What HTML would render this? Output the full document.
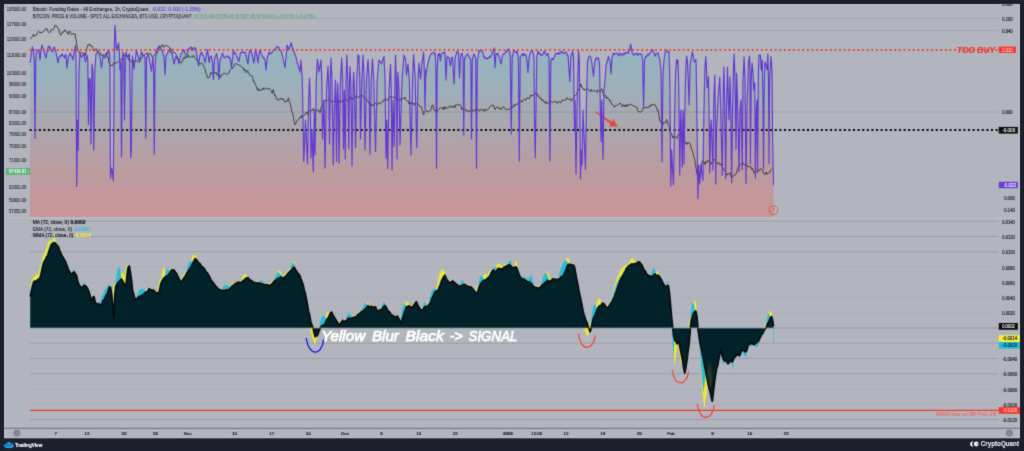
<!DOCTYPE html>
<html><head><meta charset="utf-8"><title>Chart</title>
<style>
html,body{margin:0;padding:0;background:#1c202c;width:1024px;height:451px;overflow:hidden;font-family:"Liberation Sans",sans-serif;}
</style></head><body>
<svg width="1024" height="451" viewBox="0 0 1024 451" style="display:block;position:absolute;left:0;top:0" font-family="Liberation Sans, sans-serif">
<defs>
<linearGradient id="g1" gradientUnits="userSpaceOnUse" x1="0" y1="44" x2="0" y2="217">
<stop offset="0" stop-color="#8fb6c2"/>
<stop offset="0.25" stop-color="#9db0ba"/>
<stop offset="0.5" stop-color="#aca5ad"/>
<stop offset="0.75" stop-color="#bc9b9f"/>
<stop offset="1" stop-color="#c99496"/>
</linearGradient>
<filter id="bl" x="0" y="0" width="1024" height="451" filterUnits="userSpaceOnUse" color-interpolation-filters="sRGB"><feConvolveMatrix order="3" kernelMatrix="0.016 0.09 0.016 0.09 0.576 0.09 0.016 0.09 0.016" edgeMode="duplicate" preserveAlpha="true"/></filter>
</defs>
<g filter="url(#bl)">
<rect x="-10" y="-10" width="1044" height="471" fill="#1c202c"/>
<rect x="3.2" y="3.2" width="1017.6" height="435.9" fill="#141720"/>
<rect x="4" y="4" width="1016" height="434.3" fill="#c4c7cf"/>
<rect x="4.8" y="4.8" width="1014.4" height="432.7" fill="#b2b5be"/>
<line x1="30" x2="998.5" y1="18.5" y2="18.5" stroke="#9ea1ab" stroke-width="0.8"/>
<line x1="30" x2="998.5" y1="30.6" y2="30.6" stroke="#9ea1ab" stroke-width="0.8"/>
<line x1="30" x2="998.5" y1="112.1" y2="112.1" stroke="#9ea1ab" stroke-width="0.8"/>
<path d="M30.00,217.00 L30.00,63.00 L31.00,56.00 L31.75,51.17 L32.50,47.00 L33.50,52.00 L34.30,60.00 L35.00,138.50 L35.80,60.00 L36.50,52.00 L37.50,50.00 L38.25,50.15 L39.00,52.00 L40.00,60.00 L41.00,50.00 L42.00,45.00 L42.75,48.15 L43.50,50.00 L44.33,51.58 L45.17,55.64 L46.00,58.00 L46.75,53.80 L47.50,50.00 L48.25,46.87 L49.00,46.00 L49.67,47.56 L50.33,47.48 L51.00,50.00 L51.75,51.00 L52.50,52.00 L53.25,48.41 L54.00,47.00 L54.67,47.64 L55.33,50.31 L56.00,52.00 L56.67,56.85 L57.33,58.40 L58.00,63.00 L58.75,58.87 L59.50,56.00 L60.33,55.92 L61.17,56.21 L62.00,54.00 L62.67,55.43 L63.33,55.89 L64.00,57.00 L64.67,57.96 L65.33,54.51 L66.00,55.00 L67.00,68.00 L68.50,56.00 L69.25,55.78 L70.00,53.00 L70.75,54.07 L71.50,56.00 L72.25,57.13 L73.00,60.00 L73.75,54.05 L74.50,50.00 L75.50,45.00 L76.00,60.00 L76.75,186.50 L77.60,120.00 L78.20,150.00 L79.00,70.00 L80.00,54.00 L80.67,54.63 L81.33,57.15 L82.00,57.00 L82.67,55.24 L83.33,55.44 L84.00,54.00 L84.75,58.62 L85.50,62.00 L86.25,58.32 L87.00,55.00 L87.80,60.00 L88.50,124.50 L89.30,78.00 L90.20,80.00 L91.00,144.00 L92.00,64.00 L92.80,70.00 L93.75,150.00 L94.80,70.00 L96.00,54.00 L96.67,53.68 L97.33,51.56 L98.00,52.00 L98.67,52.55 L99.33,54.65 L100.00,57.00 L101.50,68.00 L103.00,56.00 L103.67,57.41 L104.33,57.32 L105.00,58.00 L105.67,56.31 L106.33,55.79 L107.00,54.00 L107.75,52.06 L108.50,50.00 L109.80,55.00 L110.50,178.00 L111.40,168.00 L112.30,172.00 L113.30,181.00 L113.80,120.00 L114.20,60.00 L114.60,35.00 L115.00,25.00 L115.50,32.00 L116.30,48.00 L117.00,50.00 L117.75,46.10 L118.50,43.00 L119.30,50.00 L120.00,70.00 L120.80,62.00 L121.50,157.00 L122.30,60.00 L123.00,52.00 L123.80,58.00 L124.50,120.00 L125.30,58.00 L126.00,52.00 L126.67,54.75 L127.33,56.13 L128.00,57.00 L128.75,54.93 L129.50,54.00 L130.20,100.00 L130.75,158.00 L131.30,150.00 L131.80,100.00 L132.50,56.00 L134.00,69.00 L136.50,50.00 L137.33,53.76 L138.17,56.94 L139.00,60.00 L139.83,58.66 L140.67,55.56 L141.50,52.00 L142.17,52.56 L142.83,55.64 L143.50,55.00 L144.25,55.55 L145.00,58.00 L145.75,138.00 L146.50,58.00 L147.25,55.95 L148.00,54.00 L149.00,57.00 L151.50,71.50 L153.00,56.00 L153.60,70.00 L154.25,154.00 L155.00,70.00 L156.00,52.00 L156.67,51.64 L157.33,48.49 L158.00,48.00 L158.67,47.67 L159.33,45.82 L160.00,46.50 L160.67,48.37 L161.33,49.83 L162.00,50.00 L162.67,52.42 L163.33,55.33 L164.00,56.00 L165.00,75.00 L166.00,56.00 L166.67,54.31 L167.33,54.12 L168.00,52.00 L168.67,51.82 L169.33,51.11 L170.00,50.00 L170.67,51.07 L171.33,53.22 L172.00,53.00 L174.00,64.00 L176.00,56.00 L176.75,58.53 L177.50,58.00 L179.00,64.00 L181.00,54.00 L181.75,53.12 L182.50,52.69 L183.25,49.88 L184.00,50.00 L184.67,52.47 L185.33,53.97 L186.00,55.00 L186.67,55.01 L187.33,52.83 L188.00,50.00 L188.67,48.89 L189.33,48.52 L190.00,48.00 L191.00,47.00 L191.67,48.71 L192.33,47.77 L193.00,50.00 L193.80,49.32 L194.60,47.67 L195.40,47.70 L196.20,50.90 L197.00,56.00 L198.50,66.00 L199.80,56.00 L201.20,52.50 L201.80,52.21 L202.40,55.17 L203.00,55.00 L203.67,56.62 L204.33,59.51 L205.00,62.60 L205.75,58.17 L206.50,54.00 L207.60,49.30 L208.40,57.26 L209.20,62.60 L210.30,56.00 L211.30,56.00 L212.50,62.00 L213.40,79.60 L214.50,60.00 L215.20,56.78 L215.90,55.71 L216.60,53.50 L217.80,60.00 L218.80,79.60 L220.00,60.00 L220.83,58.01 L221.67,56.68 L222.50,53.00 L223.33,55.82 L224.17,57.63 L225.00,58.00 L225.67,56.87 L226.33,56.61 L227.00,56.00 L227.80,56.11 L228.60,58.02 L229.40,57.00 L230.50,60.00 L231.50,68.00 L232.50,58.00 L233.50,50.00 L234.25,53.07 L235.00,53.00 L235.75,53.65 L236.50,56.00 L237.25,57.23 L238.00,60.00 L239.00,61.50 L239.75,56.65 L240.50,53.00 L241.33,52.07 L242.17,52.49 L243.00,52.00 L243.83,52.80 L244.67,52.15 L245.50,53.00 L248.00,64.00 L249.00,54.00 L250.00,50.00 L250.67,50.05 L251.33,52.62 L252.00,54.00 L252.67,56.81 L253.33,60.40 L254.00,63.00 L254.75,57.56 L255.50,49.00 L256.25,53.27 L257.00,56.00 L258.00,63.00 L259.00,54.00 L260.00,50.00 L260.75,52.25 L261.50,54.00 L262.25,56.05 L263.00,57.00 L263.67,58.73 L264.33,57.86 L265.00,60.00 L266.00,70.00 L267.50,56.00 L268.25,55.40 L269.00,52.00 L269.67,53.37 L270.33,53.99 L271.00,53.00 L271.75,53.34 L272.50,51.38 L273.25,50.65 L274.00,50.00 L274.67,48.68 L275.33,49.94 L276.00,49.00 L276.67,47.22 L277.33,46.57 L278.00,47.00 L278.67,47.33 L279.33,48.19 L280.00,50.00 L280.67,51.05 L281.33,51.52 L282.00,54.00 L285.00,67.75 L286.50,52.00 L287.00,45.00 L287.75,46.20 L288.50,50.00 L289.25,47.65 L290.00,47.00 L291.25,42.75 L292.50,48.00 L293.25,49.00 L294.00,52.00 L294.75,53.79 L295.50,56.00 L296.25,57.78 L297.00,62.00 L298.50,66.00 L300.00,72.00 L301.00,60.00 L302.30,80.00 L303.75,161.50 L305.50,120.00 L307.50,164.00 L308.60,100.00 L309.50,78.00 L310.30,100.00 L311.00,158.00 L312.00,130.00 L313.25,172.00 L314.30,110.00 L315.00,155.00 L316.30,80.00 L317.40,59.00 L319.00,72.00 L321.00,60.00 L321.80,80.00 L322.50,139.00 L324.00,100.00 L325.00,168.00 L326.50,90.00 L328.00,66.00 L328.80,90.00 L329.50,144.00 L330.30,80.00 L331.00,57.75 L332.00,80.00 L333.25,165.00 L334.30,110.00 L335.50,80.00 L336.00,100.00 L336.50,161.50 L337.20,100.00 L337.75,83.00 L338.30,100.00 L339.00,163.00 L340.50,80.00 L341.75,58.00 L342.60,80.00 L343.50,149.00 L344.30,90.00 L345.25,159.00 L346.00,80.00 L346.75,55.00 L347.80,80.00 L348.80,149.00 L349.50,80.00 L350.00,66.50 L351.00,90.00 L352.00,166.00 L353.00,90.00 L353.60,72.00 L354.50,90.00 L355.50,148.00 L356.80,80.00 L358.00,55.00 L359.00,56.00 L359.80,80.00 L360.50,139.00 L361.80,80.00 L363.00,55.00 L364.00,75.00 L365.00,150.00 L366.50,80.00 L368.00,59.60 L369.00,80.00 L370.00,154.00 L371.30,80.00 L372.40,59.00 L373.80,80.00 L375.50,151.50 L377.20,80.00 L379.00,60.00 L381.50,64.00 L384.00,56.50 L385.00,80.00 L386.00,158.00 L386.80,120.00 L387.70,168.50 L389.00,90.00 L390.50,64.60 L391.30,90.00 L392.00,170.00 L393.00,100.00 L394.25,146.50 L395.00,80.00 L395.50,55.00 L396.30,80.00 L397.00,159.00 L397.60,90.00 L398.00,72.00 L399.00,90.00 L400.00,145.00 L402.00,80.00 L404.00,55.00 L404.75,57.82 L405.50,58.00 L406.50,75.00 L408.00,64.00 L409.30,80.00 L411.00,155.00 L412.50,80.00 L413.60,54.60 L415.00,75.00 L416.75,148.00 L418.00,80.00 L419.00,63.00 L420.50,79.00 L422.00,63.00 L422.80,58.04 L423.60,52.00 L424.30,70.00 L425.00,110.00 L425.80,70.00 L426.00,76.00 L427.00,68.00 L428.50,61.00 L429.33,57.81 L430.17,55.79 L431.00,54.00 L431.83,53.24 L432.67,52.79 L433.50,52.50 L434.10,52.07 L434.70,54.75 L435.30,54.00 L435.90,70.00 L436.50,168.50 L437.20,70.00 L438.00,54.30 L438.75,55.48 L439.50,53.30 L440.40,61.00 L441.30,53.80 L442.15,53.40 L443.00,52.80 L443.67,53.12 L444.33,52.09 L445.00,53.30 L446.00,80.00 L447.00,57.30 L447.67,56.54 L448.33,57.49 L449.00,58.00 L450.40,66.00 L451.50,58.00 L452.50,57.30 L454.00,84.00 L455.20,57.30 L455.80,54.79 L456.40,54.49 L457.00,51.30 L457.75,51.48 L458.50,53.30 L459.50,78.00 L460.50,57.30 L461.25,54.07 L462.00,53.30 L463.00,58.00 L463.75,135.00 L464.50,58.00 L465.25,58.20 L466.00,55.30 L466.75,54.96 L467.50,54.05 L468.17,54.27 L468.83,56.55 L469.50,57.30 L470.80,60.00 L471.50,139.00 L472.30,60.00 L473.15,55.81 L474.00,54.05 L474.85,56.31 L475.70,58.00 L476.50,168.50 L477.30,60.00 L478.15,56.79 L479.00,50.30 L479.67,51.59 L480.33,51.09 L481.00,50.30 L481.75,50.28 L482.50,51.30 L483.25,54.10 L484.00,57.30 L484.67,56.73 L485.33,58.78 L486.00,58.00 L486.75,58.30 L487.50,59.04 L488.25,57.69 L489.00,58.00 L489.67,56.47 L490.33,57.33 L491.00,55.30 L491.75,54.95 L492.50,51.30 L493.25,50.81 L494.00,47.80 L495.00,67.75 L496.00,53.30 L496.67,54.42 L497.33,54.45 L498.00,53.30 L498.75,56.22 L499.50,57.30 L501.00,64.00 L502.50,55.30 L503.33,54.01 L504.17,54.22 L505.00,53.30 L505.67,52.40 L506.33,50.75 L507.00,51.30 L507.67,49.33 L508.33,49.34 L509.00,49.05 L510.30,55.30 L511.25,134.00 L512.20,57.30 L513.50,51.30 L514.25,50.78 L515.00,51.30 L515.67,52.08 L516.33,52.87 L517.00,51.30 L518.40,57.30 L519.30,161.00 L520.20,57.30 L521.10,55.72 L522.00,54.05 L522.67,55.31 L523.33,55.21 L524.00,53.30 L524.67,55.53 L525.33,54.43 L526.00,55.30 L527.00,60.00 L528.00,72.75 L529.00,58.00 L529.67,55.13 L530.33,52.91 L531.00,51.30 L531.75,50.59 L532.50,51.30 L533.25,53.61 L534.00,57.30 L534.50,120.00 L535.20,158.00 L536.00,110.00 L536.80,57.30 L538.00,51.30 L538.67,52.54 L539.33,54.03 L540.00,53.30 L540.67,55.19 L541.33,54.77 L542.00,55.30 L542.67,54.63 L543.33,53.73 L544.00,51.30 L544.67,51.25 L545.33,53.98 L546.00,54.30 L546.67,55.40 L547.33,54.68 L548.00,53.30 L549.00,58.00 L549.90,161.00 L550.80,62.00 L552.00,58.30 L552.75,59.63 L553.50,59.05 L554.33,57.27 L555.17,54.45 L556.00,53.30 L556.75,54.24 L557.50,52.75 L558.25,54.03 L559.00,52.80 L559.75,54.04 L560.50,51.94 L561.25,51.58 L562.00,51.30 L562.67,53.51 L563.33,53.51 L564.00,53.30 L564.67,52.34 L565.33,52.05 L566.00,52.80 L566.67,52.79 L567.33,55.88 L568.00,55.30 L569.75,81.50 L571.00,55.30 L571.75,54.42 L572.50,51.30 L573.50,56.30 L574.50,130.00 L575.00,100.00 L576.00,174.00 L577.00,110.00 L578.50,51.30 L579.30,60.00 L580.50,179.00 L581.30,150.00 L582.00,165.00 L583.00,110.00 L583.80,130.00 L585.50,169.50 L586.50,100.00 L587.50,62.00 L588.50,57.80 L589.25,56.19 L590.00,56.30 L591.00,58.00 L592.30,66.00 L593.50,76.50 L594.80,62.00 L596.00,58.00 L597.00,57.80 L597.75,59.08 L598.50,58.00 L599.50,64.00 L601.00,141.50 L601.80,100.00 L603.00,159.50 L604.00,90.00 L604.75,84.00 L606.00,66.00 L608.50,56.30 L609.25,59.79 L610.00,60.00 L611.00,74.00 L612.00,58.00 L613.20,53.30 L613.90,54.10 L614.60,53.30 L615.30,54.02 L616.00,53.80 L616.67,53.23 L617.33,53.21 L618.00,54.80 L618.67,55.91 L619.33,54.45 L620.00,53.30 L620.67,53.91 L621.33,55.47 L622.00,54.30 L622.67,53.97 L623.33,54.95 L624.00,53.30 L624.67,54.35 L625.33,52.37 L626.00,52.90 L626.67,52.49 L627.33,52.75 L628.00,53.30 L628.75,51.22 L629.50,50.30 L630.70,44.10 L631.80,51.30 L632.40,53.09 L633.00,53.44 L633.60,55.30 L635.00,53.80 L635.67,53.92 L636.33,53.23 L637.00,54.30 L637.67,55.53 L638.33,53.66 L639.00,53.70 L639.83,53.91 L640.67,54.42 L641.50,54.10 L642.60,60.00 L643.60,108.00 L644.50,60.00 L645.60,56.30 L646.40,57.05 L647.20,54.93 L648.00,54.30 L648.67,55.25 L649.33,53.50 L650.00,52.80 L650.70,52.42 L651.40,51.72 L652.10,49.53 L652.80,50.10 L653.60,52.19 L654.40,53.48 L655.20,56.30 L656.30,54.00 L657.60,52.80 L658.27,53.38 L658.93,57.63 L659.60,58.40 L661.00,70.00 L662.00,161.75 L663.00,75.00 L664.00,60.00 L665.40,51.50 L666.20,50.47 L667.00,51.00 L667.67,51.45 L668.33,52.54 L669.00,52.00 L669.80,80.00 L670.75,186.00 L671.60,150.00 L672.30,165.00 L673.50,185.00 L674.50,120.00 L675.50,75.00 L676.60,59.60 L677.30,64.00 L678.00,60.00 L678.80,90.00 L679.75,175.00 L680.80,110.00 L681.50,130.00 L682.25,167.00 L683.00,110.00 L683.50,120.00 L684.00,164.00 L685.00,100.00 L685.80,70.00 L686.60,56.00 L687.50,62.00 L688.30,80.00 L689.00,105.00 L690.20,65.00 L692.25,52.00 L693.30,56.00 L694.30,62.00 L695.15,61.17 L696.00,59.60 L696.70,100.00 L697.90,198.60 L698.70,165.00 L699.75,184.00 L700.80,165.00 L702.90,180.50 L703.80,120.00 L704.80,70.00 L705.75,56.50 L706.50,70.00 L707.20,88.00 L708.50,76.50 L709.00,110.00 L709.75,173.00 L710.50,130.00 L711.30,120.00 L712.90,170.00 L713.80,100.00 L714.75,75.00 L715.30,110.00 L715.75,184.00 L716.50,130.00 L718.00,100.00 L719.75,77.00 L720.50,100.00 L722.25,175.50 L723.20,90.00 L723.90,67.00 L724.60,100.00 L725.60,178.60 L726.60,100.00 L727.50,67.00 L728.30,100.00 L729.00,120.00 L730.00,77.00 L730.80,110.00 L731.60,183.00 L732.60,110.00 L733.40,70.00 L734.10,54.00 L734.90,75.00 L736.00,149.00 L736.60,73.40 L737.50,100.00 L739.00,171.75 L740.00,110.00 L741.00,100.00 L742.25,170.00 L743.00,80.00 L744.10,57.00 L745.00,80.00 L746.00,183.60 L747.20,100.00 L748.50,62.00 L749.50,56.00 L750.00,70.00 L750.40,164.00 L751.20,80.00 L752.00,62.75 L752.90,71.50 L753.80,90.00 L754.75,82.75 L755.40,178.00 L756.30,110.00 L757.00,100.00 L757.60,173.00 L758.40,70.00 L759.00,55.00 L760.40,55.00 L761.20,70.00 L762.25,60.00 L763.00,100.00 L763.50,169.00 L764.00,100.00 L764.80,62.00 L766.00,65.00 L767.00,70.00 L767.90,54.00 L768.50,80.00 L769.00,164.00 L769.60,80.00 L771.00,56.50 L772.00,70.00 L772.60,140.00 L773.50,185.50 L773.80,217.00Z" fill="url(#g1)"/>
<line x1="4" x2="1020" y1="217.6" y2="217.6" stroke="#bfc2ca" stroke-width="0.8"/>
<line x1="30" x2="998.5" y1="419.50" y2="419.50" stroke="#989ba5" stroke-width="0.85"/>
<line x1="30" x2="998.5" y1="404.25" y2="404.25" stroke="#acafb8" stroke-width="0.85"/>
<line x1="30" x2="998.5" y1="389.00" y2="389.00" stroke="#acafb8" stroke-width="0.85"/>
<line x1="30" x2="998.5" y1="373.75" y2="373.75" stroke="#989ba5" stroke-width="0.85"/>
<line x1="30" x2="998.5" y1="358.50" y2="358.50" stroke="#989ba5" stroke-width="0.85"/>
<line x1="30" x2="998.5" y1="343.25" y2="343.25" stroke="#989ba5" stroke-width="0.85"/>
<line x1="30" x2="998.5" y1="312.75" y2="312.75" stroke="#acafb8" stroke-width="0.85"/>
<line x1="30" x2="998.5" y1="297.50" y2="297.50" stroke="#acafb8" stroke-width="0.85"/>
<line x1="30" x2="998.5" y1="282.25" y2="282.25" stroke="#acafb8" stroke-width="0.85"/>
<line x1="30" x2="998.5" y1="267.00" y2="267.00" stroke="#acafb8" stroke-width="0.85"/>
<line x1="30" x2="998.5" y1="251.75" y2="251.75" stroke="#989ba5" stroke-width="0.85"/>
<line x1="30" x2="998.5" y1="236.50" y2="236.50" stroke="#989ba5" stroke-width="0.85"/>
<line x1="30" x2="998.5" y1="221.25" y2="221.25" stroke="#989ba5" stroke-width="0.85"/>
<line x1="774" x2="998" y1="185" y2="185" stroke="#bcbfd0" stroke-width="0.6" stroke-dasharray="1 1.5"/>
<line x1="30" x2="774" y1="112.1" y2="112.1" stroke="#7f828c" stroke-width="0.7" opacity="0.75"/>
<path d="M595.3,112.4 L595.9,111.6 L611.8,121.7 L613.5,119.2 L617.9,126.7 L608.7,126.3 L610.4,123.8Z" fill="#dc4c42"/>
<path d="M30.00,39.23 L30.85,38.46 L31.70,37.22 L32.55,36.57 L33.40,34.22 L34.25,36.43 L35.10,36.07 L35.95,34.70 L36.80,34.73 L37.65,32.48 L38.50,31.19 L39.35,32.20 L40.20,33.09 L41.05,32.10 L41.90,33.04 L42.75,31.97 L43.60,31.10 L44.45,30.74 L45.30,29.12 L46.15,28.47 L47.00,28.73 L47.85,31.48 L48.70,32.12 L49.55,32.67 L50.40,32.16 L51.25,29.40 L52.10,29.58 L52.95,29.88 L53.80,28.72 L54.65,25.76 L55.50,24.86 L56.35,26.85 L57.20,26.76 L58.05,28.33 L58.90,29.70 L59.75,33.36 L60.60,35.25 L61.45,34.74 L62.30,31.66 L63.15,32.55 L64.00,31.81 L64.85,29.70 L65.70,31.35 L66.55,32.37 L67.40,31.61 L68.25,34.55 L69.10,31.82 L69.95,31.02 L70.80,33.87 L71.65,34.88 L72.50,33.40 L73.35,34.07 L74.20,34.18 L75.05,33.85 L75.90,39.09 L76.75,44.62 L77.60,49.80 L78.45,50.23 L79.30,53.11 L80.15,53.76 L81.00,52.14 L81.85,52.72 L82.70,53.25 L83.55,53.41 L84.40,53.02 L85.25,55.39 L86.10,51.19 L86.95,48.13 L87.80,44.91 L88.65,44.97 L89.50,43.87 L90.35,46.19 L91.20,45.51 L92.05,45.96 L92.90,48.12 L93.75,50.86 L94.60,50.86 L95.45,49.03 L96.30,48.56 L97.15,50.98 L98.00,51.21 L98.85,52.88 L99.70,52.32 L100.55,53.04 L101.40,55.50 L102.25,55.28 L103.10,54.61 L103.95,56.29 L104.80,54.45 L105.65,54.03 L106.50,52.75 L107.35,57.19 L108.20,57.15 L109.05,62.51 L109.90,64.26 L110.75,65.77 L111.60,65.56 L112.45,65.83 L113.30,63.27 L114.15,62.77 L115.00,63.88 L115.85,62.93 L116.70,62.46 L117.55,62.53 L118.40,61.68 L119.25,61.15 L120.10,60.49 L120.95,59.47 L121.80,59.51 L122.65,56.76 L123.50,56.04 L124.35,54.58 L125.20,55.79 L126.05,55.51 L126.90,56.92 L127.75,56.92 L128.60,59.78 L129.45,59.94 L130.30,59.49 L131.15,60.85 L132.00,62.72 L132.85,60.73 L133.70,62.49 L134.55,60.76 L135.40,60.39 L136.25,61.17 L137.10,60.41 L137.95,61.32 L138.80,62.43 L139.65,62.26 L140.50,58.78 L141.35,58.69 L142.20,57.02 L143.05,56.38 L143.90,55.26 L144.75,54.67 L145.60,53.46 L146.45,53.41 L147.30,52.95 L148.15,54.77 L149.00,53.60 L149.85,53.61 L150.70,53.65 L151.55,56.21 L152.40,56.58 L153.25,56.26 L154.10,55.28 L154.95,54.59 L155.80,54.18 L156.65,54.11 L157.50,51.41 L158.35,49.62 L159.20,46.86 L160.05,48.17 L160.90,47.43 L161.75,45.37 L162.60,44.63 L163.45,47.36 L164.30,45.96 L165.15,46.52 L166.00,45.17 L166.85,46.03 L167.70,46.02 L168.55,46.83 L169.40,47.20 L170.25,49.33 L171.10,48.89 L171.95,50.73 L172.80,51.27 L173.65,52.94 L174.50,52.50 L175.35,53.08 L176.20,54.75 L177.05,55.95 L177.90,58.42 L178.75,59.67 L179.60,61.58 L180.45,62.47 L181.30,62.90 L182.15,61.97 L183.00,59.09 L183.85,57.48 L184.70,58.99 L185.55,56.21 L186.40,57.67 L187.25,57.16 L188.10,55.12 L188.95,57.39 L189.80,57.45 L190.65,56.55 L191.50,56.76 L192.35,57.09 L193.20,55.44 L194.05,56.97 L194.90,57.28 L195.75,58.65 L196.60,59.66 L197.45,61.15 L198.30,61.84 L199.15,63.99 L200.00,63.72 L200.85,64.10 L201.70,63.06 L202.55,63.60 L203.40,65.47 L204.25,67.71 L205.10,68.61 L205.95,73.36 L206.80,75.08 L207.65,77.83 L208.50,78.13 L209.35,77.02 L210.20,75.17 L211.05,72.47 L211.90,74.14 L212.75,73.29 L213.60,71.84 L214.45,72.06 L215.30,73.28 L216.15,72.35 L217.00,75.21 L217.85,74.68 L218.70,75.07 L219.55,76.56 L220.40,77.77 L221.25,74.78 L222.10,74.97 L222.95,74.26 L223.80,73.07 L224.65,73.09 L225.50,73.73 L226.35,74.41 L227.20,74.30 L228.05,73.50 L228.90,73.22 L229.75,70.42 L230.60,69.43 L231.45,68.54 L232.30,68.90 L233.15,66.67 L234.00,66.54 L234.85,63.95 L235.70,63.64 L236.55,63.91 L237.40,64.77 L238.25,64.78 L239.10,65.44 L239.95,65.00 L240.80,66.38 L241.65,67.04 L242.50,67.90 L243.35,67.71 L244.20,70.81 L245.05,69.30 L245.90,72.20 L246.75,72.64 L247.60,70.55 L248.45,72.59 L249.30,74.38 L250.15,75.59 L251.00,75.10 L251.85,75.62 L252.70,77.38 L253.55,81.71 L254.40,81.63 L255.25,84.87 L256.10,85.68 L256.95,88.95 L257.80,90.62 L258.65,88.45 L259.50,90.79 L260.35,89.85 L261.20,90.56 L262.05,89.59 L262.90,87.74 L263.75,89.94 L264.60,88.99 L265.45,87.89 L266.30,87.96 L267.15,89.28 L268.00,89.02 L268.85,88.43 L269.70,88.80 L270.55,90.47 L271.40,91.45 L272.25,93.38 L273.10,89.53 L273.95,91.71 L274.80,96.06 L275.65,95.55 L276.50,98.88 L277.35,99.15 L278.20,100.62 L279.05,99.19 L279.90,98.93 L280.75,98.48 L281.60,99.79 L282.45,98.05 L283.30,99.00 L284.15,100.97 L285.00,102.28 L285.85,101.97 L286.70,100.50 L287.55,101.06 L288.40,97.78 L289.25,101.31 L290.10,103.07 L290.95,106.95 L291.80,111.23 L292.65,113.67 L293.50,117.62 L294.35,122.77 L295.20,124.75 L296.05,122.84 L296.90,120.59 L297.75,120.09 L298.60,119.66 L299.45,117.98 L300.30,118.04 L301.15,115.69 L302.00,117.40 L302.85,116.09 L303.70,116.36 L304.55,115.40 L305.40,113.68 L306.25,112.33 L307.10,114.33 L307.95,111.29 L308.80,111.69 L309.65,110.67 L310.50,109.89 L311.35,110.58 L312.20,110.65 L313.05,108.59 L313.90,110.27 L314.75,109.69 L315.60,110.94 L316.45,110.74 L317.30,110.16 L318.15,110.25 L319.00,110.50 L319.85,112.70 L320.70,109.62 L321.55,106.53 L322.40,106.32 L323.25,104.32 L324.10,101.32 L324.95,100.32 L325.80,100.41 L326.65,100.04 L327.50,100.73 L328.35,99.91 L329.20,100.28 L330.05,100.28 L330.90,101.36 L331.75,102.45 L332.60,102.18 L333.45,101.31 L334.30,101.46 L335.15,101.93 L336.00,101.63 L336.85,101.38 L337.70,100.42 L338.55,100.94 L339.40,102.88 L340.25,100.22 L341.10,101.23 L341.95,101.47 L342.80,101.97 L343.65,99.69 L344.50,99.51 L345.35,99.18 L346.20,99.46 L347.05,99.43 L347.90,100.78 L348.75,100.30 L349.60,100.20 L350.45,97.45 L351.30,97.27 L352.15,99.09 L353.00,99.44 L353.85,97.96 L354.70,98.09 L355.55,95.98 L356.40,96.72 L357.25,97.91 L358.10,97.18 L358.95,96.84 L359.80,96.77 L360.65,94.77 L361.50,94.70 L362.35,95.19 L363.20,96.65 L364.05,97.48 L364.90,98.62 L365.75,98.31 L366.60,99.28 L367.45,101.17 L368.30,101.79 L369.15,103.61 L370.00,103.62 L370.85,105.76 L371.70,104.03 L372.55,106.00 L373.40,105.10 L374.25,103.99 L375.10,103.37 L375.95,103.66 L376.80,104.73 L377.65,104.83 L378.50,102.99 L379.35,102.78 L380.20,103.91 L381.05,103.41 L381.90,102.14 L382.75,100.97 L383.60,101.42 L384.45,98.97 L385.30,99.26 L386.15,99.35 L387.00,100.44 L387.85,99.10 L388.70,99.42 L389.55,97.80 L390.40,96.68 L391.25,96.32 L392.10,98.07 L392.95,97.44 L393.80,96.85 L394.65,96.60 L395.50,98.64 L396.35,99.61 L397.20,99.06 L398.05,98.78 L398.90,100.23 L399.75,101.21 L400.60,98.91 L401.45,97.95 L402.30,98.48 L403.15,98.34 L404.00,98.75 L404.85,96.91 L405.70,99.57 L406.55,100.53 L407.40,100.96 L408.25,101.20 L409.10,104.23 L409.95,102.43 L410.80,104.12 L411.65,102.52 L412.50,102.66 L413.35,104.45 L414.20,103.22 L415.05,105.37 L415.90,104.17 L416.75,103.41 L417.60,103.69 L418.45,104.44 L419.30,105.36 L420.15,106.71 L421.00,106.34 L421.85,109.12 L422.70,110.62 L423.55,114.94 L424.40,112.33 L425.25,111.27 L426.10,110.51 L426.95,110.73 L427.80,111.93 L428.65,111.60 L429.50,110.86 L430.35,110.79 L431.20,108.89 L432.05,105.39 L432.90,104.94 L433.75,109.08 L434.60,110.39 L435.45,110.13 L436.30,112.96 L437.15,111.31 L438.00,110.50 L438.85,109.57 L439.70,108.29 L440.55,107.37 L441.40,107.99 L442.25,107.99 L443.10,109.59 L443.95,106.88 L444.80,109.19 L445.65,106.77 L446.50,107.09 L447.35,108.36 L448.20,108.24 L449.05,106.94 L449.90,105.66 L450.75,106.85 L451.60,106.46 L452.45,108.01 L453.30,105.75 L454.15,106.18 L455.00,107.69 L455.85,104.38 L456.70,104.82 L457.55,105.31 L458.40,105.24 L459.25,104.01 L460.10,104.94 L460.95,105.97 L461.80,109.48 L462.65,108.31 L463.50,110.03 L464.35,110.72 L465.20,109.29 L466.05,109.34 L466.90,111.71 L467.75,111.01 L468.60,110.26 L469.45,111.94 L470.30,110.84 L471.15,110.40 L472.00,109.26 L472.85,111.20 L473.70,111.36 L474.55,110.24 L475.40,110.93 L476.25,107.93 L477.10,108.32 L477.95,109.05 L478.80,110.74 L479.65,110.98 L480.50,109.52 L481.35,109.25 L482.20,109.79 L483.05,109.98 L483.90,111.28 L484.75,109.05 L485.60,110.61 L486.45,109.99 L487.30,109.82 L488.15,109.24 L489.00,108.32 L489.85,106.75 L490.70,106.00 L491.55,105.40 L492.40,105.93 L493.25,104.94 L494.10,106.65 L494.95,109.68 L495.80,108.04 L496.65,107.28 L497.50,106.98 L498.35,108.32 L499.20,107.46 L500.05,109.37 L500.90,109.01 L501.75,109.27 L502.60,107.09 L503.45,106.93 L504.30,107.35 L505.15,108.94 L506.00,109.95 L506.85,109.55 L507.70,109.09 L508.55,109.15 L509.40,109.28 L510.25,108.95 L511.10,108.67 L511.95,108.33 L512.80,107.14 L513.65,104.88 L514.50,106.40 L515.35,104.22 L516.20,104.66 L517.05,103.70 L517.90,104.41 L518.75,102.41 L519.60,102.17 L520.45,101.63 L521.30,100.69 L522.15,102.21 L523.00,100.63 L523.85,99.32 L524.70,99.15 L525.55,100.55 L526.40,98.72 L527.25,97.51 L528.10,98.86 L528.95,97.86 L529.80,98.22 L530.65,94.90 L531.50,95.36 L532.35,95.73 L533.20,95.14 L534.05,94.76 L534.90,92.47 L535.75,93.56 L536.60,93.37 L537.45,93.91 L538.30,96.59 L539.15,96.32 L540.00,98.44 L540.85,97.84 L541.70,100.40 L542.55,100.06 L543.40,100.08 L544.25,102.23 L545.10,103.33 L545.95,101.41 L546.80,103.47 L547.65,103.76 L548.50,102.35 L549.35,102.60 L550.20,101.72 L551.05,101.70 L551.90,101.65 L552.75,102.48 L553.60,102.48 L554.45,101.38 L555.30,101.05 L556.15,102.24 L557.00,103.53 L557.85,101.84 L558.70,102.01 L559.55,101.47 L560.40,103.04 L561.25,102.02 L562.10,100.16 L562.95,99.87 L563.80,100.34 L564.65,100.40 L565.50,100.26 L566.35,98.21 L567.20,98.02 L568.05,99.75 L568.90,99.06 L569.75,98.85 L570.60,99.09 L571.45,101.20 L572.30,99.36 L573.15,98.76 L574.00,96.77 L574.85,95.59 L575.70,95.57 L576.55,94.61 L577.40,91.35 L578.25,89.49 L579.10,89.48 L579.95,86.21 L580.80,83.92 L581.65,87.24 L582.50,87.17 L583.35,89.72 L584.20,88.86 L585.05,90.46 L585.90,89.36 L586.75,88.64 L587.60,88.36 L588.45,90.14 L589.30,90.65 L590.15,91.70 L591.00,89.48 L591.85,91.32 L592.70,90.70 L593.55,91.21 L594.40,90.24 L595.25,90.76 L596.10,91.54 L596.95,92.55 L597.80,89.89 L598.65,90.84 L599.50,91.57 L600.35,91.86 L601.20,89.34 L602.05,88.93 L602.90,93.02 L603.75,95.33 L604.60,96.06 L605.45,95.39 L606.30,98.30 L607.15,96.96 L608.00,98.80 L608.85,98.79 L609.70,101.04 L610.55,100.69 L611.40,104.21 L612.25,104.17 L613.10,105.05 L613.95,106.72 L614.80,107.01 L615.65,105.41 L616.50,105.32 L617.35,105.30 L618.20,105.09 L619.05,104.12 L619.90,102.96 L620.75,103.86 L621.60,105.81 L622.45,106.85 L623.30,104.62 L624.15,106.19 L625.00,106.77 L625.85,104.61 L626.70,106.80 L627.55,104.39 L628.40,105.58 L629.25,105.18 L630.10,105.15 L630.95,103.93 L631.80,104.66 L632.65,105.57 L633.50,105.53 L634.35,106.65 L635.20,106.44 L636.05,106.91 L636.90,107.30 L637.75,110.71 L638.60,111.95 L639.45,111.58 L640.30,112.46 L641.15,111.80 L642.00,110.12 L642.85,108.58 L643.70,108.87 L644.55,107.56 L645.40,107.41 L646.25,108.10 L647.10,106.88 L647.95,107.71 L648.80,107.53 L649.65,105.41 L650.50,106.49 L651.35,104.12 L652.20,105.37 L653.05,104.87 L653.90,104.78 L654.75,104.12 L655.60,106.18 L656.45,107.12 L657.30,110.71 L658.15,110.14 L659.00,115.79 L659.85,120.82 L660.70,122.37 L661.55,122.94 L662.40,121.41 L663.25,124.10 L664.10,122.29 L664.95,123.06 L665.80,122.31 L666.65,119.44 L667.50,121.77 L668.35,125.25 L669.20,125.72 L670.05,129.45 L670.90,133.22 L671.75,133.98 L672.60,137.81 L673.45,136.22 L674.30,138.13 L675.15,136.40 L676.00,137.76 L676.85,138.39 L677.70,135.63 L678.55,135.17 L679.40,135.27 L680.25,134.66 L681.10,134.15 L681.95,134.93 L682.80,135.20 L683.65,138.26 L684.50,140.04 L685.35,143.24 L686.20,142.94 L687.05,144.50 L687.90,142.21 L688.75,143.18 L689.60,143.21 L690.45,144.43 L691.30,148.52 L692.15,150.12 L693.00,152.74 L693.85,156.90 L694.70,158.81 L695.55,165.73 L696.40,169.75 L697.25,175.11 L698.10,179.46 L698.95,176.79 L699.80,177.64 L700.65,170.79 L701.50,164.53 L702.35,160.95 L703.20,161.35 L704.05,161.91 L704.90,164.57 L705.75,161.58 L706.60,162.99 L707.45,160.38 L708.30,160.63 L709.15,162.49 L710.00,162.66 L710.85,164.25 L711.70,162.50 L712.55,160.44 L713.40,159.40 L714.25,159.16 L715.10,161.28 L715.95,161.45 L716.80,162.41 L717.65,164.20 L718.50,162.48 L719.35,163.33 L720.20,165.18 L721.05,163.90 L721.90,165.26 L722.75,167.73 L723.60,168.40 L724.45,170.57 L725.30,171.50 L726.15,173.85 L727.00,175.14 L727.85,173.76 L728.70,174.17 L729.55,172.87 L730.40,173.28 L731.25,177.81 L732.10,177.86 L732.95,176.78 L733.80,175.20 L734.65,175.41 L735.50,174.70 L736.35,172.90 L737.20,170.06 L738.05,167.94 L738.90,165.48 L739.75,165.68 L740.60,164.87 L741.45,163.67 L742.30,163.99 L743.15,162.81 L744.00,164.56 L744.85,164.80 L745.70,164.20 L746.55,167.01 L747.40,165.18 L748.25,166.93 L749.10,166.83 L749.95,166.61 L750.80,166.36 L751.65,169.45 L752.50,168.29 L753.35,171.04 L754.20,173.34 L755.05,171.38 L755.90,170.70 L756.75,171.07 L757.60,170.20 L758.45,170.43 L759.30,170.78 L760.15,168.69 L761.00,168.93 L761.85,169.92 L762.70,170.19 L763.55,173.73 L764.40,174.43 L765.25,174.48 L766.10,172.07 L766.95,174.30 L767.80,173.72 L768.65,172.52 L769.50,172.61 L770.35,171.00 L771.20,169.59 L772.05,168.49" fill="none" stroke="#35281f" stroke-width="0.9" stroke-linejoin="round" opacity="0.92"/>
<path d="M29.55,128.95h2.1v2.1h-2.1zM34.15,128.95h2.1v2.1h-2.1zM38.75,128.95h2.1v2.1h-2.1zM43.35,128.95h2.1v2.1h-2.1zM47.95,128.95h2.1v2.1h-2.1zM52.55,128.95h2.1v2.1h-2.1zM57.15,128.95h2.1v2.1h-2.1zM61.75,128.95h2.1v2.1h-2.1zM66.35,128.95h2.1v2.1h-2.1zM70.95,128.95h2.1v2.1h-2.1zM75.55,128.95h2.1v2.1h-2.1zM80.15,128.95h2.1v2.1h-2.1zM84.75,128.95h2.1v2.1h-2.1zM89.35,128.95h2.1v2.1h-2.1zM93.95,128.95h2.1v2.1h-2.1zM98.55,128.95h2.1v2.1h-2.1zM103.15,128.95h2.1v2.1h-2.1zM107.75,128.95h2.1v2.1h-2.1zM112.35,128.95h2.1v2.1h-2.1zM116.95,128.95h2.1v2.1h-2.1zM121.55,128.95h2.1v2.1h-2.1zM126.15,128.95h2.1v2.1h-2.1zM130.75,128.95h2.1v2.1h-2.1zM135.35,128.95h2.1v2.1h-2.1zM139.95,128.95h2.1v2.1h-2.1zM144.55,128.95h2.1v2.1h-2.1zM149.15,128.95h2.1v2.1h-2.1zM153.75,128.95h2.1v2.1h-2.1zM158.35,128.95h2.1v2.1h-2.1zM162.95,128.95h2.1v2.1h-2.1zM167.55,128.95h2.1v2.1h-2.1zM172.15,128.95h2.1v2.1h-2.1zM176.75,128.95h2.1v2.1h-2.1zM181.35,128.95h2.1v2.1h-2.1zM185.95,128.95h2.1v2.1h-2.1zM190.55,128.95h2.1v2.1h-2.1zM195.15,128.95h2.1v2.1h-2.1zM199.75,128.95h2.1v2.1h-2.1zM204.35,128.95h2.1v2.1h-2.1zM208.95,128.95h2.1v2.1h-2.1zM213.55,128.95h2.1v2.1h-2.1zM218.15,128.95h2.1v2.1h-2.1zM222.75,128.95h2.1v2.1h-2.1zM227.35,128.95h2.1v2.1h-2.1zM231.95,128.95h2.1v2.1h-2.1zM236.55,128.95h2.1v2.1h-2.1zM241.15,128.95h2.1v2.1h-2.1zM245.75,128.95h2.1v2.1h-2.1zM250.35,128.95h2.1v2.1h-2.1zM254.95,128.95h2.1v2.1h-2.1zM259.55,128.95h2.1v2.1h-2.1zM264.15,128.95h2.1v2.1h-2.1zM268.75,128.95h2.1v2.1h-2.1zM273.35,128.95h2.1v2.1h-2.1zM277.95,128.95h2.1v2.1h-2.1zM282.55,128.95h2.1v2.1h-2.1zM287.15,128.95h2.1v2.1h-2.1zM291.75,128.95h2.1v2.1h-2.1zM296.35,128.95h2.1v2.1h-2.1zM300.95,128.95h2.1v2.1h-2.1zM305.55,128.95h2.1v2.1h-2.1zM310.15,128.95h2.1v2.1h-2.1zM314.75,128.95h2.1v2.1h-2.1zM319.35,128.95h2.1v2.1h-2.1zM323.95,128.95h2.1v2.1h-2.1zM328.55,128.95h2.1v2.1h-2.1zM333.15,128.95h2.1v2.1h-2.1zM337.75,128.95h2.1v2.1h-2.1zM342.35,128.95h2.1v2.1h-2.1zM346.95,128.95h2.1v2.1h-2.1zM351.55,128.95h2.1v2.1h-2.1zM356.15,128.95h2.1v2.1h-2.1zM360.75,128.95h2.1v2.1h-2.1zM365.35,128.95h2.1v2.1h-2.1zM369.95,128.95h2.1v2.1h-2.1zM374.55,128.95h2.1v2.1h-2.1zM379.15,128.95h2.1v2.1h-2.1zM383.75,128.95h2.1v2.1h-2.1zM388.35,128.95h2.1v2.1h-2.1zM392.95,128.95h2.1v2.1h-2.1zM397.55,128.95h2.1v2.1h-2.1zM402.15,128.95h2.1v2.1h-2.1zM406.75,128.95h2.1v2.1h-2.1zM411.35,128.95h2.1v2.1h-2.1zM415.95,128.95h2.1v2.1h-2.1zM420.55,128.95h2.1v2.1h-2.1zM425.15,128.95h2.1v2.1h-2.1zM429.75,128.95h2.1v2.1h-2.1zM434.35,128.95h2.1v2.1h-2.1zM438.95,128.95h2.1v2.1h-2.1zM443.55,128.95h2.1v2.1h-2.1zM448.15,128.95h2.1v2.1h-2.1zM452.75,128.95h2.1v2.1h-2.1zM457.35,128.95h2.1v2.1h-2.1zM461.95,128.95h2.1v2.1h-2.1zM466.55,128.95h2.1v2.1h-2.1zM471.15,128.95h2.1v2.1h-2.1zM475.75,128.95h2.1v2.1h-2.1zM480.35,128.95h2.1v2.1h-2.1zM484.95,128.95h2.1v2.1h-2.1zM489.55,128.95h2.1v2.1h-2.1zM494.15,128.95h2.1v2.1h-2.1zM498.75,128.95h2.1v2.1h-2.1zM503.35,128.95h2.1v2.1h-2.1zM507.95,128.95h2.1v2.1h-2.1zM512.55,128.95h2.1v2.1h-2.1zM517.15,128.95h2.1v2.1h-2.1zM521.75,128.95h2.1v2.1h-2.1zM526.35,128.95h2.1v2.1h-2.1zM530.95,128.95h2.1v2.1h-2.1zM535.55,128.95h2.1v2.1h-2.1zM540.15,128.95h2.1v2.1h-2.1zM544.75,128.95h2.1v2.1h-2.1zM549.35,128.95h2.1v2.1h-2.1zM553.95,128.95h2.1v2.1h-2.1zM558.55,128.95h2.1v2.1h-2.1zM563.15,128.95h2.1v2.1h-2.1zM567.75,128.95h2.1v2.1h-2.1zM572.35,128.95h2.1v2.1h-2.1zM576.95,128.95h2.1v2.1h-2.1zM581.55,128.95h2.1v2.1h-2.1zM586.15,128.95h2.1v2.1h-2.1zM590.75,128.95h2.1v2.1h-2.1zM595.35,128.95h2.1v2.1h-2.1zM599.95,128.95h2.1v2.1h-2.1zM604.55,128.95h2.1v2.1h-2.1zM609.15,128.95h2.1v2.1h-2.1zM613.75,128.95h2.1v2.1h-2.1zM618.35,128.95h2.1v2.1h-2.1zM622.95,128.95h2.1v2.1h-2.1zM627.55,128.95h2.1v2.1h-2.1zM632.15,128.95h2.1v2.1h-2.1zM636.75,128.95h2.1v2.1h-2.1zM641.35,128.95h2.1v2.1h-2.1zM645.95,128.95h2.1v2.1h-2.1zM650.55,128.95h2.1v2.1h-2.1zM655.15,128.95h2.1v2.1h-2.1zM659.75,128.95h2.1v2.1h-2.1zM664.35,128.95h2.1v2.1h-2.1zM668.95,128.95h2.1v2.1h-2.1zM673.55,128.95h2.1v2.1h-2.1zM678.15,128.95h2.1v2.1h-2.1zM682.75,128.95h2.1v2.1h-2.1zM687.35,128.95h2.1v2.1h-2.1zM691.95,128.95h2.1v2.1h-2.1zM696.55,128.95h2.1v2.1h-2.1zM701.15,128.95h2.1v2.1h-2.1zM705.75,128.95h2.1v2.1h-2.1zM710.35,128.95h2.1v2.1h-2.1zM714.95,128.95h2.1v2.1h-2.1zM719.55,128.95h2.1v2.1h-2.1zM724.15,128.95h2.1v2.1h-2.1zM728.75,128.95h2.1v2.1h-2.1zM733.35,128.95h2.1v2.1h-2.1zM737.95,128.95h2.1v2.1h-2.1zM742.55,128.95h2.1v2.1h-2.1zM747.15,128.95h2.1v2.1h-2.1zM751.75,128.95h2.1v2.1h-2.1zM756.35,128.95h2.1v2.1h-2.1zM760.95,128.95h2.1v2.1h-2.1zM765.55,128.95h2.1v2.1h-2.1zM770.15,128.95h2.1v2.1h-2.1zM774.75,128.95h2.1v2.1h-2.1zM779.35,128.95h2.1v2.1h-2.1zM783.95,128.95h2.1v2.1h-2.1zM788.55,128.95h2.1v2.1h-2.1zM793.15,128.95h2.1v2.1h-2.1zM797.75,128.95h2.1v2.1h-2.1zM802.35,128.95h2.1v2.1h-2.1zM806.95,128.95h2.1v2.1h-2.1zM811.55,128.95h2.1v2.1h-2.1zM816.15,128.95h2.1v2.1h-2.1zM820.75,128.95h2.1v2.1h-2.1zM825.35,128.95h2.1v2.1h-2.1zM829.95,128.95h2.1v2.1h-2.1zM834.55,128.95h2.1v2.1h-2.1zM839.15,128.95h2.1v2.1h-2.1zM843.75,128.95h2.1v2.1h-2.1zM848.35,128.95h2.1v2.1h-2.1zM852.95,128.95h2.1v2.1h-2.1zM857.55,128.95h2.1v2.1h-2.1zM862.15,128.95h2.1v2.1h-2.1zM866.75,128.95h2.1v2.1h-2.1zM871.35,128.95h2.1v2.1h-2.1zM875.95,128.95h2.1v2.1h-2.1zM880.55,128.95h2.1v2.1h-2.1zM885.15,128.95h2.1v2.1h-2.1zM889.75,128.95h2.1v2.1h-2.1zM894.35,128.95h2.1v2.1h-2.1zM898.95,128.95h2.1v2.1h-2.1zM903.55,128.95h2.1v2.1h-2.1zM908.15,128.95h2.1v2.1h-2.1zM912.75,128.95h2.1v2.1h-2.1zM917.35,128.95h2.1v2.1h-2.1zM921.95,128.95h2.1v2.1h-2.1zM926.55,128.95h2.1v2.1h-2.1zM931.15,128.95h2.1v2.1h-2.1zM935.75,128.95h2.1v2.1h-2.1zM940.35,128.95h2.1v2.1h-2.1zM944.95,128.95h2.1v2.1h-2.1zM949.55,128.95h2.1v2.1h-2.1zM954.15,128.95h2.1v2.1h-2.1zM958.75,128.95h2.1v2.1h-2.1zM963.35,128.95h2.1v2.1h-2.1zM967.95,128.95h2.1v2.1h-2.1zM972.55,128.95h2.1v2.1h-2.1zM977.15,128.95h2.1v2.1h-2.1zM981.75,128.95h2.1v2.1h-2.1zM986.35,128.95h2.1v2.1h-2.1zM990.95,128.95h2.1v2.1h-2.1zM995.55,128.95h2.1v2.1h-2.1z" fill="#0b0b0d"/>
<path d="M30.00,63.00 L31.00,56.00 L31.75,51.17 L32.50,47.00 L33.50,52.00 L34.30,60.00 L35.00,138.50 L35.80,60.00 L36.50,52.00 L37.50,50.00 L38.25,50.15 L39.00,52.00 L40.00,60.00 L41.00,50.00 L42.00,45.00 L42.75,48.15 L43.50,50.00 L44.33,51.58 L45.17,55.64 L46.00,58.00 L46.75,53.80 L47.50,50.00 L48.25,46.87 L49.00,46.00 L49.67,47.56 L50.33,47.48 L51.00,50.00 L51.75,51.00 L52.50,52.00 L53.25,48.41 L54.00,47.00 L54.67,47.64 L55.33,50.31 L56.00,52.00 L56.67,56.85 L57.33,58.40 L58.00,63.00 L58.75,58.87 L59.50,56.00 L60.33,55.92 L61.17,56.21 L62.00,54.00 L62.67,55.43 L63.33,55.89 L64.00,57.00 L64.67,57.96 L65.33,54.51 L66.00,55.00 L67.00,68.00 L68.50,56.00 L69.25,55.78 L70.00,53.00 L70.75,54.07 L71.50,56.00 L72.25,57.13 L73.00,60.00 L73.75,54.05 L74.50,50.00 L75.50,45.00 L76.00,60.00 L76.75,186.50 L77.60,120.00 L78.20,150.00 L79.00,70.00 L80.00,54.00 L80.67,54.63 L81.33,57.15 L82.00,57.00 L82.67,55.24 L83.33,55.44 L84.00,54.00 L84.75,58.62 L85.50,62.00 L86.25,58.32 L87.00,55.00 L87.80,60.00 L88.50,124.50 L89.30,78.00 L90.20,80.00 L91.00,144.00 L92.00,64.00 L92.80,70.00 L93.75,150.00 L94.80,70.00 L96.00,54.00 L96.67,53.68 L97.33,51.56 L98.00,52.00 L98.67,52.55 L99.33,54.65 L100.00,57.00 L101.50,68.00 L103.00,56.00 L103.67,57.41 L104.33,57.32 L105.00,58.00 L105.67,56.31 L106.33,55.79 L107.00,54.00 L107.75,52.06 L108.50,50.00 L109.80,55.00 L110.50,178.00 L111.40,168.00 L112.30,172.00 L113.30,181.00 L113.80,120.00 L114.20,60.00 L114.60,35.00 L115.00,25.00 L115.50,32.00 L116.30,48.00 L117.00,50.00 L117.75,46.10 L118.50,43.00 L119.30,50.00 L120.00,70.00 L120.80,62.00 L121.50,157.00 L122.30,60.00 L123.00,52.00 L123.80,58.00 L124.50,120.00 L125.30,58.00 L126.00,52.00 L126.67,54.75 L127.33,56.13 L128.00,57.00 L128.75,54.93 L129.50,54.00 L130.20,100.00 L130.75,158.00 L131.30,150.00 L131.80,100.00 L132.50,56.00 L134.00,69.00 L136.50,50.00 L137.33,53.76 L138.17,56.94 L139.00,60.00 L139.83,58.66 L140.67,55.56 L141.50,52.00 L142.17,52.56 L142.83,55.64 L143.50,55.00 L144.25,55.55 L145.00,58.00 L145.75,138.00 L146.50,58.00 L147.25,55.95 L148.00,54.00 L149.00,57.00 L151.50,71.50 L153.00,56.00 L153.60,70.00 L154.25,154.00 L155.00,70.00 L156.00,52.00 L156.67,51.64 L157.33,48.49 L158.00,48.00 L158.67,47.67 L159.33,45.82 L160.00,46.50 L160.67,48.37 L161.33,49.83 L162.00,50.00 L162.67,52.42 L163.33,55.33 L164.00,56.00 L165.00,75.00 L166.00,56.00 L166.67,54.31 L167.33,54.12 L168.00,52.00 L168.67,51.82 L169.33,51.11 L170.00,50.00 L170.67,51.07 L171.33,53.22 L172.00,53.00 L174.00,64.00 L176.00,56.00 L176.75,58.53 L177.50,58.00 L179.00,64.00 L181.00,54.00 L181.75,53.12 L182.50,52.69 L183.25,49.88 L184.00,50.00 L184.67,52.47 L185.33,53.97 L186.00,55.00 L186.67,55.01 L187.33,52.83 L188.00,50.00 L188.67,48.89 L189.33,48.52 L190.00,48.00 L191.00,47.00 L191.67,48.71 L192.33,47.77 L193.00,50.00 L193.80,49.32 L194.60,47.67 L195.40,47.70 L196.20,50.90 L197.00,56.00 L198.50,66.00 L199.80,56.00 L201.20,52.50 L201.80,52.21 L202.40,55.17 L203.00,55.00 L203.67,56.62 L204.33,59.51 L205.00,62.60 L205.75,58.17 L206.50,54.00 L207.60,49.30 L208.40,57.26 L209.20,62.60 L210.30,56.00 L211.30,56.00 L212.50,62.00 L213.40,79.60 L214.50,60.00 L215.20,56.78 L215.90,55.71 L216.60,53.50 L217.80,60.00 L218.80,79.60 L220.00,60.00 L220.83,58.01 L221.67,56.68 L222.50,53.00 L223.33,55.82 L224.17,57.63 L225.00,58.00 L225.67,56.87 L226.33,56.61 L227.00,56.00 L227.80,56.11 L228.60,58.02 L229.40,57.00 L230.50,60.00 L231.50,68.00 L232.50,58.00 L233.50,50.00 L234.25,53.07 L235.00,53.00 L235.75,53.65 L236.50,56.00 L237.25,57.23 L238.00,60.00 L239.00,61.50 L239.75,56.65 L240.50,53.00 L241.33,52.07 L242.17,52.49 L243.00,52.00 L243.83,52.80 L244.67,52.15 L245.50,53.00 L248.00,64.00 L249.00,54.00 L250.00,50.00 L250.67,50.05 L251.33,52.62 L252.00,54.00 L252.67,56.81 L253.33,60.40 L254.00,63.00 L254.75,57.56 L255.50,49.00 L256.25,53.27 L257.00,56.00 L258.00,63.00 L259.00,54.00 L260.00,50.00 L260.75,52.25 L261.50,54.00 L262.25,56.05 L263.00,57.00 L263.67,58.73 L264.33,57.86 L265.00,60.00 L266.00,70.00 L267.50,56.00 L268.25,55.40 L269.00,52.00 L269.67,53.37 L270.33,53.99 L271.00,53.00 L271.75,53.34 L272.50,51.38 L273.25,50.65 L274.00,50.00 L274.67,48.68 L275.33,49.94 L276.00,49.00 L276.67,47.22 L277.33,46.57 L278.00,47.00 L278.67,47.33 L279.33,48.19 L280.00,50.00 L280.67,51.05 L281.33,51.52 L282.00,54.00 L285.00,67.75 L286.50,52.00 L287.00,45.00 L287.75,46.20 L288.50,50.00 L289.25,47.65 L290.00,47.00 L291.25,42.75 L292.50,48.00 L293.25,49.00 L294.00,52.00 L294.75,53.79 L295.50,56.00 L296.25,57.78 L297.00,62.00 L298.50,66.00 L300.00,72.00 L301.00,60.00 L302.30,80.00 L303.75,161.50 L305.50,120.00 L307.50,164.00 L308.60,100.00 L309.50,78.00 L310.30,100.00 L311.00,158.00 L312.00,130.00 L313.25,172.00 L314.30,110.00 L315.00,155.00 L316.30,80.00 L317.40,59.00 L319.00,72.00 L321.00,60.00 L321.80,80.00 L322.50,139.00 L324.00,100.00 L325.00,168.00 L326.50,90.00 L328.00,66.00 L328.80,90.00 L329.50,144.00 L330.30,80.00 L331.00,57.75 L332.00,80.00 L333.25,165.00 L334.30,110.00 L335.50,80.00 L336.00,100.00 L336.50,161.50 L337.20,100.00 L337.75,83.00 L338.30,100.00 L339.00,163.00 L340.50,80.00 L341.75,58.00 L342.60,80.00 L343.50,149.00 L344.30,90.00 L345.25,159.00 L346.00,80.00 L346.75,55.00 L347.80,80.00 L348.80,149.00 L349.50,80.00 L350.00,66.50 L351.00,90.00 L352.00,166.00 L353.00,90.00 L353.60,72.00 L354.50,90.00 L355.50,148.00 L356.80,80.00 L358.00,55.00 L359.00,56.00 L359.80,80.00 L360.50,139.00 L361.80,80.00 L363.00,55.00 L364.00,75.00 L365.00,150.00 L366.50,80.00 L368.00,59.60 L369.00,80.00 L370.00,154.00 L371.30,80.00 L372.40,59.00 L373.80,80.00 L375.50,151.50 L377.20,80.00 L379.00,60.00 L381.50,64.00 L384.00,56.50 L385.00,80.00 L386.00,158.00 L386.80,120.00 L387.70,168.50 L389.00,90.00 L390.50,64.60 L391.30,90.00 L392.00,170.00 L393.00,100.00 L394.25,146.50 L395.00,80.00 L395.50,55.00 L396.30,80.00 L397.00,159.00 L397.60,90.00 L398.00,72.00 L399.00,90.00 L400.00,145.00 L402.00,80.00 L404.00,55.00 L404.75,57.82 L405.50,58.00 L406.50,75.00 L408.00,64.00 L409.30,80.00 L411.00,155.00 L412.50,80.00 L413.60,54.60 L415.00,75.00 L416.75,148.00 L418.00,80.00 L419.00,63.00 L420.50,79.00 L422.00,63.00 L422.80,58.04 L423.60,52.00 L424.30,70.00 L425.00,110.00 L425.80,70.00 L426.00,76.00 L427.00,68.00 L428.50,61.00 L429.33,57.81 L430.17,55.79 L431.00,54.00 L431.83,53.24 L432.67,52.79 L433.50,52.50 L434.10,52.07 L434.70,54.75 L435.30,54.00 L435.90,70.00 L436.50,168.50 L437.20,70.00 L438.00,54.30 L438.75,55.48 L439.50,53.30 L440.40,61.00 L441.30,53.80 L442.15,53.40 L443.00,52.80 L443.67,53.12 L444.33,52.09 L445.00,53.30 L446.00,80.00 L447.00,57.30 L447.67,56.54 L448.33,57.49 L449.00,58.00 L450.40,66.00 L451.50,58.00 L452.50,57.30 L454.00,84.00 L455.20,57.30 L455.80,54.79 L456.40,54.49 L457.00,51.30 L457.75,51.48 L458.50,53.30 L459.50,78.00 L460.50,57.30 L461.25,54.07 L462.00,53.30 L463.00,58.00 L463.75,135.00 L464.50,58.00 L465.25,58.20 L466.00,55.30 L466.75,54.96 L467.50,54.05 L468.17,54.27 L468.83,56.55 L469.50,57.30 L470.80,60.00 L471.50,139.00 L472.30,60.00 L473.15,55.81 L474.00,54.05 L474.85,56.31 L475.70,58.00 L476.50,168.50 L477.30,60.00 L478.15,56.79 L479.00,50.30 L479.67,51.59 L480.33,51.09 L481.00,50.30 L481.75,50.28 L482.50,51.30 L483.25,54.10 L484.00,57.30 L484.67,56.73 L485.33,58.78 L486.00,58.00 L486.75,58.30 L487.50,59.04 L488.25,57.69 L489.00,58.00 L489.67,56.47 L490.33,57.33 L491.00,55.30 L491.75,54.95 L492.50,51.30 L493.25,50.81 L494.00,47.80 L495.00,67.75 L496.00,53.30 L496.67,54.42 L497.33,54.45 L498.00,53.30 L498.75,56.22 L499.50,57.30 L501.00,64.00 L502.50,55.30 L503.33,54.01 L504.17,54.22 L505.00,53.30 L505.67,52.40 L506.33,50.75 L507.00,51.30 L507.67,49.33 L508.33,49.34 L509.00,49.05 L510.30,55.30 L511.25,134.00 L512.20,57.30 L513.50,51.30 L514.25,50.78 L515.00,51.30 L515.67,52.08 L516.33,52.87 L517.00,51.30 L518.40,57.30 L519.30,161.00 L520.20,57.30 L521.10,55.72 L522.00,54.05 L522.67,55.31 L523.33,55.21 L524.00,53.30 L524.67,55.53 L525.33,54.43 L526.00,55.30 L527.00,60.00 L528.00,72.75 L529.00,58.00 L529.67,55.13 L530.33,52.91 L531.00,51.30 L531.75,50.59 L532.50,51.30 L533.25,53.61 L534.00,57.30 L534.50,120.00 L535.20,158.00 L536.00,110.00 L536.80,57.30 L538.00,51.30 L538.67,52.54 L539.33,54.03 L540.00,53.30 L540.67,55.19 L541.33,54.77 L542.00,55.30 L542.67,54.63 L543.33,53.73 L544.00,51.30 L544.67,51.25 L545.33,53.98 L546.00,54.30 L546.67,55.40 L547.33,54.68 L548.00,53.30 L549.00,58.00 L549.90,161.00 L550.80,62.00 L552.00,58.30 L552.75,59.63 L553.50,59.05 L554.33,57.27 L555.17,54.45 L556.00,53.30 L556.75,54.24 L557.50,52.75 L558.25,54.03 L559.00,52.80 L559.75,54.04 L560.50,51.94 L561.25,51.58 L562.00,51.30 L562.67,53.51 L563.33,53.51 L564.00,53.30 L564.67,52.34 L565.33,52.05 L566.00,52.80 L566.67,52.79 L567.33,55.88 L568.00,55.30 L569.75,81.50 L571.00,55.30 L571.75,54.42 L572.50,51.30 L573.50,56.30 L574.50,130.00 L575.00,100.00 L576.00,174.00 L577.00,110.00 L578.50,51.30 L579.30,60.00 L580.50,179.00 L581.30,150.00 L582.00,165.00 L583.00,110.00 L583.80,130.00 L585.50,169.50 L586.50,100.00 L587.50,62.00 L588.50,57.80 L589.25,56.19 L590.00,56.30 L591.00,58.00 L592.30,66.00 L593.50,76.50 L594.80,62.00 L596.00,58.00 L597.00,57.80 L597.75,59.08 L598.50,58.00 L599.50,64.00 L601.00,141.50 L601.80,100.00 L603.00,159.50 L604.00,90.00 L604.75,84.00 L606.00,66.00 L608.50,56.30 L609.25,59.79 L610.00,60.00 L611.00,74.00 L612.00,58.00 L613.20,53.30 L613.90,54.10 L614.60,53.30 L615.30,54.02 L616.00,53.80 L616.67,53.23 L617.33,53.21 L618.00,54.80 L618.67,55.91 L619.33,54.45 L620.00,53.30 L620.67,53.91 L621.33,55.47 L622.00,54.30 L622.67,53.97 L623.33,54.95 L624.00,53.30 L624.67,54.35 L625.33,52.37 L626.00,52.90 L626.67,52.49 L627.33,52.75 L628.00,53.30 L628.75,51.22 L629.50,50.30 L630.70,44.10 L631.80,51.30 L632.40,53.09 L633.00,53.44 L633.60,55.30 L635.00,53.80 L635.67,53.92 L636.33,53.23 L637.00,54.30 L637.67,55.53 L638.33,53.66 L639.00,53.70 L639.83,53.91 L640.67,54.42 L641.50,54.10 L642.60,60.00 L643.60,108.00 L644.50,60.00 L645.60,56.30 L646.40,57.05 L647.20,54.93 L648.00,54.30 L648.67,55.25 L649.33,53.50 L650.00,52.80 L650.70,52.42 L651.40,51.72 L652.10,49.53 L652.80,50.10 L653.60,52.19 L654.40,53.48 L655.20,56.30 L656.30,54.00 L657.60,52.80 L658.27,53.38 L658.93,57.63 L659.60,58.40 L661.00,70.00 L662.00,161.75 L663.00,75.00 L664.00,60.00 L665.40,51.50 L666.20,50.47 L667.00,51.00 L667.67,51.45 L668.33,52.54 L669.00,52.00 L669.80,80.00 L670.75,186.00 L671.60,150.00 L672.30,165.00 L673.50,185.00 L674.50,120.00 L675.50,75.00 L676.60,59.60 L677.30,64.00 L678.00,60.00 L678.80,90.00 L679.75,175.00 L680.80,110.00 L681.50,130.00 L682.25,167.00 L683.00,110.00 L683.50,120.00 L684.00,164.00 L685.00,100.00 L685.80,70.00 L686.60,56.00 L687.50,62.00 L688.30,80.00 L689.00,105.00 L690.20,65.00 L692.25,52.00 L693.30,56.00 L694.30,62.00 L695.15,61.17 L696.00,59.60 L696.70,100.00 L697.90,198.60 L698.70,165.00 L699.75,184.00 L700.80,165.00 L702.90,180.50 L703.80,120.00 L704.80,70.00 L705.75,56.50 L706.50,70.00 L707.20,88.00 L708.50,76.50 L709.00,110.00 L709.75,173.00 L710.50,130.00 L711.30,120.00 L712.90,170.00 L713.80,100.00 L714.75,75.00 L715.30,110.00 L715.75,184.00 L716.50,130.00 L718.00,100.00 L719.75,77.00 L720.50,100.00 L722.25,175.50 L723.20,90.00 L723.90,67.00 L724.60,100.00 L725.60,178.60 L726.60,100.00 L727.50,67.00 L728.30,100.00 L729.00,120.00 L730.00,77.00 L730.80,110.00 L731.60,183.00 L732.60,110.00 L733.40,70.00 L734.10,54.00 L734.90,75.00 L736.00,149.00 L736.60,73.40 L737.50,100.00 L739.00,171.75 L740.00,110.00 L741.00,100.00 L742.25,170.00 L743.00,80.00 L744.10,57.00 L745.00,80.00 L746.00,183.60 L747.20,100.00 L748.50,62.00 L749.50,56.00 L750.00,70.00 L750.40,164.00 L751.20,80.00 L752.00,62.75 L752.90,71.50 L753.80,90.00 L754.75,82.75 L755.40,178.00 L756.30,110.00 L757.00,100.00 L757.60,173.00 L758.40,70.00 L759.00,55.00 L760.40,55.00 L761.20,70.00 L762.25,60.00 L763.00,100.00 L763.50,169.00 L764.00,100.00 L764.80,62.00 L766.00,65.00 L767.00,70.00 L767.90,54.00 L768.50,80.00 L769.00,164.00 L769.60,80.00 L771.00,56.50 L772.00,70.00 L772.60,140.00 L773.50,185.50" fill="none" stroke="#6439d0" stroke-width="1.15" stroke-linejoin="round"/>
<path d="M29.50,48.88h1.85v1.85h-1.85zM34.10,48.88h1.85v1.85h-1.85zM38.70,48.88h1.85v1.85h-1.85zM43.30,48.88h1.85v1.85h-1.85zM47.90,48.88h1.85v1.85h-1.85zM52.50,48.88h1.85v1.85h-1.85zM57.10,48.88h1.85v1.85h-1.85zM61.70,48.88h1.85v1.85h-1.85zM66.30,48.88h1.85v1.85h-1.85zM70.90,48.88h1.85v1.85h-1.85zM75.50,48.88h1.85v1.85h-1.85zM80.10,48.88h1.85v1.85h-1.85zM84.70,48.88h1.85v1.85h-1.85zM89.30,48.88h1.85v1.85h-1.85zM93.90,48.88h1.85v1.85h-1.85zM98.50,48.88h1.85v1.85h-1.85zM103.10,48.88h1.85v1.85h-1.85zM107.70,48.88h1.85v1.85h-1.85zM112.30,48.88h1.85v1.85h-1.85zM116.90,48.88h1.85v1.85h-1.85zM121.50,48.88h1.85v1.85h-1.85zM126.10,48.88h1.85v1.85h-1.85zM130.70,48.88h1.85v1.85h-1.85zM135.30,48.88h1.85v1.85h-1.85zM139.90,48.88h1.85v1.85h-1.85zM144.50,48.88h1.85v1.85h-1.85zM149.10,48.88h1.85v1.85h-1.85zM153.70,48.88h1.85v1.85h-1.85zM158.30,48.88h1.85v1.85h-1.85zM162.90,48.88h1.85v1.85h-1.85zM167.50,48.88h1.85v1.85h-1.85zM172.10,48.88h1.85v1.85h-1.85zM176.70,48.88h1.85v1.85h-1.85zM181.30,48.88h1.85v1.85h-1.85zM185.90,48.88h1.85v1.85h-1.85zM190.50,48.88h1.85v1.85h-1.85zM195.10,48.88h1.85v1.85h-1.85zM199.70,48.88h1.85v1.85h-1.85zM204.30,48.88h1.85v1.85h-1.85zM208.90,48.88h1.85v1.85h-1.85zM213.50,48.88h1.85v1.85h-1.85zM218.10,48.88h1.85v1.85h-1.85zM222.70,48.88h1.85v1.85h-1.85zM227.30,48.88h1.85v1.85h-1.85zM231.90,48.88h1.85v1.85h-1.85zM236.50,48.88h1.85v1.85h-1.85zM241.10,48.88h1.85v1.85h-1.85zM245.70,48.88h1.85v1.85h-1.85zM250.30,48.88h1.85v1.85h-1.85zM254.90,48.88h1.85v1.85h-1.85zM259.50,48.88h1.85v1.85h-1.85zM264.10,48.88h1.85v1.85h-1.85zM268.70,48.88h1.85v1.85h-1.85zM273.30,48.88h1.85v1.85h-1.85zM277.90,48.88h1.85v1.85h-1.85zM282.50,48.88h1.85v1.85h-1.85zM287.10,48.88h1.85v1.85h-1.85zM291.70,48.88h1.85v1.85h-1.85zM296.30,48.88h1.85v1.85h-1.85zM300.90,48.88h1.85v1.85h-1.85zM305.50,48.88h1.85v1.85h-1.85zM310.10,48.88h1.85v1.85h-1.85zM314.70,48.88h1.85v1.85h-1.85zM319.30,48.88h1.85v1.85h-1.85zM323.90,48.88h1.85v1.85h-1.85zM328.50,48.88h1.85v1.85h-1.85zM333.10,48.88h1.85v1.85h-1.85zM337.70,48.88h1.85v1.85h-1.85zM342.30,48.88h1.85v1.85h-1.85zM346.90,48.88h1.85v1.85h-1.85zM351.50,48.88h1.85v1.85h-1.85zM356.10,48.88h1.85v1.85h-1.85zM360.70,48.88h1.85v1.85h-1.85zM365.30,48.88h1.85v1.85h-1.85zM369.90,48.88h1.85v1.85h-1.85zM374.50,48.88h1.85v1.85h-1.85zM379.10,48.88h1.85v1.85h-1.85zM383.70,48.88h1.85v1.85h-1.85zM388.30,48.88h1.85v1.85h-1.85zM392.90,48.88h1.85v1.85h-1.85zM397.50,48.88h1.85v1.85h-1.85zM402.10,48.88h1.85v1.85h-1.85zM406.70,48.88h1.85v1.85h-1.85zM411.30,48.88h1.85v1.85h-1.85zM415.90,48.88h1.85v1.85h-1.85zM420.50,48.88h1.85v1.85h-1.85zM425.10,48.88h1.85v1.85h-1.85zM429.70,48.88h1.85v1.85h-1.85zM434.30,48.88h1.85v1.85h-1.85zM438.90,48.88h1.85v1.85h-1.85zM443.50,48.88h1.85v1.85h-1.85zM448.10,48.88h1.85v1.85h-1.85zM452.70,48.88h1.85v1.85h-1.85zM457.30,48.88h1.85v1.85h-1.85zM461.90,48.88h1.85v1.85h-1.85zM466.50,48.88h1.85v1.85h-1.85zM471.10,48.88h1.85v1.85h-1.85zM475.70,48.88h1.85v1.85h-1.85zM480.30,48.88h1.85v1.85h-1.85zM484.90,48.88h1.85v1.85h-1.85zM489.50,48.88h1.85v1.85h-1.85zM494.10,48.88h1.85v1.85h-1.85zM498.70,48.88h1.85v1.85h-1.85zM503.30,48.88h1.85v1.85h-1.85zM507.90,48.88h1.85v1.85h-1.85zM512.50,48.88h1.85v1.85h-1.85zM517.10,48.88h1.85v1.85h-1.85zM521.70,48.88h1.85v1.85h-1.85zM526.30,48.88h1.85v1.85h-1.85zM530.90,48.88h1.85v1.85h-1.85zM535.50,48.88h1.85v1.85h-1.85zM540.10,48.88h1.85v1.85h-1.85zM544.70,48.88h1.85v1.85h-1.85zM549.30,48.88h1.85v1.85h-1.85zM553.90,48.88h1.85v1.85h-1.85zM558.50,48.88h1.85v1.85h-1.85zM563.10,48.88h1.85v1.85h-1.85zM567.70,48.88h1.85v1.85h-1.85zM572.30,48.88h1.85v1.85h-1.85zM576.90,48.88h1.85v1.85h-1.85zM581.50,48.88h1.85v1.85h-1.85zM586.10,48.88h1.85v1.85h-1.85zM590.70,48.88h1.85v1.85h-1.85zM595.30,48.88h1.85v1.85h-1.85zM599.90,48.88h1.85v1.85h-1.85zM604.50,48.88h1.85v1.85h-1.85zM609.10,48.88h1.85v1.85h-1.85zM613.70,48.88h1.85v1.85h-1.85zM618.30,48.88h1.85v1.85h-1.85zM622.90,48.88h1.85v1.85h-1.85zM627.50,48.88h1.85v1.85h-1.85zM632.10,48.88h1.85v1.85h-1.85zM636.70,48.88h1.85v1.85h-1.85zM641.30,48.88h1.85v1.85h-1.85zM645.90,48.88h1.85v1.85h-1.85zM650.50,48.88h1.85v1.85h-1.85zM655.10,48.88h1.85v1.85h-1.85zM659.70,48.88h1.85v1.85h-1.85zM664.30,48.88h1.85v1.85h-1.85zM668.90,48.88h1.85v1.85h-1.85zM673.50,48.88h1.85v1.85h-1.85zM678.10,48.88h1.85v1.85h-1.85zM682.70,48.88h1.85v1.85h-1.85zM687.30,48.88h1.85v1.85h-1.85zM691.90,48.88h1.85v1.85h-1.85zM696.50,48.88h1.85v1.85h-1.85zM701.10,48.88h1.85v1.85h-1.85zM705.70,48.88h1.85v1.85h-1.85zM710.30,48.88h1.85v1.85h-1.85zM714.90,48.88h1.85v1.85h-1.85zM719.50,48.88h1.85v1.85h-1.85zM724.10,48.88h1.85v1.85h-1.85zM728.70,48.88h1.85v1.85h-1.85zM733.30,48.88h1.85v1.85h-1.85zM737.90,48.88h1.85v1.85h-1.85zM742.50,48.88h1.85v1.85h-1.85zM747.10,48.88h1.85v1.85h-1.85zM751.70,48.88h1.85v1.85h-1.85zM756.30,48.88h1.85v1.85h-1.85zM760.90,48.88h1.85v1.85h-1.85zM765.50,48.88h1.85v1.85h-1.85zM770.10,48.88h1.85v1.85h-1.85zM774.70,48.88h1.85v1.85h-1.85zM779.30,48.88h1.85v1.85h-1.85zM783.90,48.88h1.85v1.85h-1.85zM788.50,48.88h1.85v1.85h-1.85zM793.10,48.88h1.85v1.85h-1.85zM797.70,48.88h1.85v1.85h-1.85zM802.30,48.88h1.85v1.85h-1.85zM806.90,48.88h1.85v1.85h-1.85zM811.50,48.88h1.85v1.85h-1.85zM816.10,48.88h1.85v1.85h-1.85zM820.70,48.88h1.85v1.85h-1.85zM825.30,48.88h1.85v1.85h-1.85zM829.90,48.88h1.85v1.85h-1.85zM834.50,48.88h1.85v1.85h-1.85zM839.10,48.88h1.85v1.85h-1.85zM843.70,48.88h1.85v1.85h-1.85zM848.30,48.88h1.85v1.85h-1.85zM852.90,48.88h1.85v1.85h-1.85zM857.50,48.88h1.85v1.85h-1.85zM862.10,48.88h1.85v1.85h-1.85zM866.70,48.88h1.85v1.85h-1.85zM871.30,48.88h1.85v1.85h-1.85zM875.90,48.88h1.85v1.85h-1.85zM880.50,48.88h1.85v1.85h-1.85zM885.10,48.88h1.85v1.85h-1.85zM889.70,48.88h1.85v1.85h-1.85zM894.30,48.88h1.85v1.85h-1.85zM898.90,48.88h1.85v1.85h-1.85zM903.50,48.88h1.85v1.85h-1.85zM908.10,48.88h1.85v1.85h-1.85zM912.70,48.88h1.85v1.85h-1.85zM917.30,48.88h1.85v1.85h-1.85zM921.90,48.88h1.85v1.85h-1.85zM926.50,48.88h1.85v1.85h-1.85zM931.10,48.88h1.85v1.85h-1.85zM935.70,48.88h1.85v1.85h-1.85zM940.30,48.88h1.85v1.85h-1.85zM944.90,48.88h1.85v1.85h-1.85zM949.50,48.88h1.85v1.85h-1.85zM954.10,48.88h1.85v1.85h-1.85zM958.70,48.88h1.85v1.85h-1.85zM963.30,48.88h1.85v1.85h-1.85zM967.90,48.88h1.85v1.85h-1.85zM972.50,48.88h1.85v1.85h-1.85zM977.10,48.88h1.85v1.85h-1.85zM981.70,48.88h1.85v1.85h-1.85zM986.30,48.88h1.85v1.85h-1.85zM990.90,48.88h1.85v1.85h-1.85zM995.50,48.88h1.85v1.85h-1.85z" fill="#f5352a"/>
<path d="M30.25,328.00 L30.25,286.33 L30.85,283.80 L31.45,281.28 L32.05,279.73 L32.65,278.70 L33.25,277.84 L33.85,277.17 L34.45,276.45 L35.05,275.67 L35.65,274.99 L36.25,274.48 L36.85,274.16 L37.45,274.02 L38.05,274.05 L38.65,271.96 L39.25,270.05 L39.85,268.34 L40.45,266.19 L41.05,263.66 L41.65,260.32 L42.25,258.16 L42.85,256.48 L43.45,254.92 L44.05,253.46 L44.65,252.13 L45.25,250.90 L45.85,249.39 L46.45,247.58 L47.05,245.89 L47.65,244.31 L48.25,242.85 L48.85,241.51 L49.45,240.58 L50.05,240.69 L50.65,240.91 L51.25,240.84 L51.85,240.33 L52.45,239.35 L53.05,238.15 L53.65,236.76 L54.25,236.60 L54.85,237.87 L55.45,239.86 L56.05,242.37 L56.65,242.98 L57.25,243.60 L57.85,244.34 L58.45,245.77 L59.05,247.20 L59.65,248.63 L60.25,250.06 L60.85,251.48 L61.45,252.91 L62.05,253.97 L62.65,254.99 L63.25,256.01 L63.85,257.03 L64.45,258.05 L65.05,259.07 L65.65,260.49 L66.25,262.13 L66.85,263.76 L67.45,265.39 L68.05,267.02 L68.65,268.65 L69.25,269.99 L69.85,270.91 L70.45,271.82 L71.05,271.64 L71.65,271.03 L72.25,271.57 L72.85,272.05 L73.45,271.44 L74.05,270.96 L74.65,271.87 L75.25,272.79 L75.85,273.71 L76.45,274.63 L77.05,276.95 L77.65,279.40 L78.25,281.84 L78.85,284.29 L79.45,285.36 L80.05,285.98 L80.65,286.08 L81.25,285.47 L81.85,284.94 L82.45,285.35 L83.05,285.75 L83.65,285.26 L84.25,285.07 L84.85,285.48 L85.45,285.89 L86.05,286.30 L86.65,286.71 L87.25,287.11 L87.85,287.76 L88.45,289.60 L89.05,291.43 L89.65,293.27 L90.25,295.10 L90.85,296.13 L91.45,294.49 L92.05,297.11 L92.65,298.17 L93.25,295.11 L93.85,295.36 L94.45,297.98 L95.05,300.61 L95.65,301.89 L96.25,302.50 L96.85,303.11 L97.45,303.72 L98.05,303.69 L98.65,303.61 L99.25,303.53 L99.85,302.66 L100.45,301.72 L101.05,300.78 L101.65,299.84 L102.25,298.91 L102.85,297.97 L103.45,296.64 L104.05,295.11 L104.65,293.58 L105.25,292.05 L105.85,290.36 L106.45,288.53 L107.05,286.69 L107.65,284.85 L108.25,285.09 L108.85,287.91 L109.45,286.08 L110.05,284.24 L110.65,286.54 L111.25,290.92 L111.85,295.29 L112.45,301.83 L113.05,286.18 L113.65,285.26 L114.25,284.34 L114.85,283.43 L115.45,282.51 L116.05,281.85 L116.65,281.23 L117.25,280.62 L117.85,280.01 L118.45,279.40 L119.05,278.79 L119.65,279.07 L120.25,278.29 L120.85,274.68 L121.45,271.99 L122.05,271.63 L122.65,272.32 L123.25,273.93 L123.85,276.46 L124.45,275.94 L125.05,272.52 L125.65,266.87 L126.25,265.73 L126.85,264.59 L127.45,264.96 L128.05,266.49 L128.65,265.35 L129.25,264.21 L129.85,266.60 L130.45,271.49 L131.05,276.42 L131.65,281.66 L132.25,286.91 L132.85,291.59 L133.45,293.42 L134.05,295.26 L134.65,297.09 L135.25,297.43 L135.85,297.03 L136.45,296.62 L137.05,296.25 L137.65,295.95 L138.25,295.64 L138.85,295.33 L139.45,295.03 L140.05,294.72 L140.65,294.42 L141.25,294.11 L141.85,293.78 L142.45,293.17 L143.05,292.56 L143.65,291.94 L144.25,291.33 L144.85,290.72 L145.45,290.11 L146.05,289.50 L146.65,288.88 L147.25,288.79 L147.85,288.87 L148.45,288.95 L149.05,288.74 L149.65,288.82 L150.25,288.90 L150.85,288.98 L151.45,289.06 L152.05,289.14 L152.65,289.23 L153.25,289.68 L153.85,290.21 L154.45,290.74 L155.05,291.27 L155.65,291.80 L156.25,292.33 L156.85,292.08 L157.45,289.38 L158.05,286.69 L158.65,284.00 L159.25,281.30 L159.85,280.24 L160.45,279.32 L161.05,278.40 L161.65,276.19 L162.25,271.46 L162.85,268.49 L163.45,267.14 L164.05,267.41 L164.65,269.29 L165.25,272.80 L165.85,274.24 L166.45,273.30 L167.05,272.36 L167.65,271.42 L168.25,270.48 L168.85,269.54 L169.45,268.84 L170.05,268.84 L170.65,268.84 L171.25,268.84 L171.85,268.84 L172.45,268.84 L173.05,268.84 L173.65,268.84 L174.25,269.22 L174.85,270.14 L175.45,271.06 L176.05,271.98 L176.65,272.89 L177.25,274.06 L177.85,275.56 L178.45,277.07 L179.05,278.58 L179.65,279.74 L180.25,279.05 L180.85,278.35 L181.45,277.66 L182.05,276.83 L182.65,275.81 L183.25,274.79 L183.85,273.77 L184.45,272.75 L185.05,271.73 L185.65,270.71 L186.25,269.69 L186.85,268.67 L187.45,267.65 L188.05,266.63 L188.65,265.61 L189.25,264.59 L189.85,263.52 L190.45,262.44 L191.05,261.26 L191.65,259.12 L192.25,257.22 L192.85,255.56 L193.45,254.14 L194.05,254.64 L194.65,255.72 L195.25,255.28 L195.85,255.15 L196.45,256.95 L197.05,258.89 L197.65,259.84 L198.25,260.78 L198.85,261.72 L199.45,262.41 L200.05,263.03 L200.65,263.64 L201.25,264.25 L201.85,264.86 L202.45,265.47 L203.05,266.19 L203.65,267.00 L204.25,267.82 L204.85,268.64 L205.45,269.45 L206.05,270.27 L206.65,271.13 L207.25,272.15 L207.85,273.17 L208.45,274.19 L209.05,275.21 L209.65,276.23 L210.25,277.25 L210.85,278.27 L211.45,279.29 L212.05,280.31 L212.65,281.33 L213.25,282.35 L213.85,283.37 L214.45,284.13 L215.05,284.81 L215.65,285.48 L216.25,286.15 L216.85,286.83 L217.45,287.50 L218.05,288.17 L218.65,288.85 L219.25,289.28 L219.85,289.37 L220.45,289.46 L221.05,289.55 L221.65,289.65 L222.25,289.74 L222.85,289.79 L223.45,289.67 L224.05,289.55 L224.65,289.42 L225.25,289.30 L225.85,289.00 L226.45,288.51 L227.05,288.02 L227.65,287.53 L228.25,287.04 L228.85,286.55 L229.45,286.07 L230.05,285.61 L230.65,285.15 L231.25,284.69 L231.85,284.23 L232.45,283.77 L233.05,283.31 L233.65,282.85 L234.25,282.39 L234.85,282.21 L235.45,282.06 L236.05,281.91 L236.65,281.76 L237.25,281.60 L237.85,281.45 L238.45,281.30 L239.05,281.14 L239.65,280.82 L240.25,280.38 L240.85,279.94 L241.45,279.50 L242.05,278.06 L242.65,276.76 L243.25,275.70 L243.85,274.88 L244.45,274.30 L245.05,273.96 L245.65,274.02 L246.25,275.13 L246.85,275.99 L247.45,276.61 L248.05,276.76 L248.65,277.29 L249.25,277.82 L249.85,278.35 L250.45,278.88 L251.05,279.41 L251.65,279.91 L252.25,280.31 L252.85,280.72 L253.45,281.13 L254.05,281.54 L254.65,281.95 L255.25,281.91 L255.85,281.78 L256.45,281.66 L257.05,281.69 L257.65,281.87 L258.25,281.74 L258.85,281.62 L259.45,281.77 L260.05,282.02 L260.65,282.26 L261.25,282.51 L261.85,282.75 L262.45,283.00 L263.05,283.24 L263.65,283.49 L264.25,283.69 L264.85,283.85 L265.45,284.00 L266.05,284.15 L266.65,284.31 L267.25,284.46 L267.85,284.28 L268.45,283.92 L269.05,283.57 L269.65,283.21 L270.25,282.62 L270.85,281.96 L271.45,281.30 L272.05,280.63 L272.65,279.97 L273.25,279.46 L273.85,278.34 L274.45,276.94 L275.05,275.78 L275.65,274.87 L276.25,274.19 L276.85,272.65 L277.45,270.88 L278.05,270.03 L278.65,270.21 L279.25,271.03 L279.85,271.16 L280.45,271.63 L281.05,272.67 L281.65,274.11 L282.25,275.74 L282.85,275.93 L283.45,275.32 L284.05,274.71 L284.65,274.09 L285.25,273.48 L285.85,272.87 L286.45,272.26 L287.05,271.52 L287.65,270.75 L288.25,269.99 L288.85,269.22 L289.45,268.46 L290.05,267.69 L290.65,266.93 L291.25,266.16 L291.85,264.13 L292.45,263.51 L293.05,262.06 L293.65,260.92 L294.25,261.74 L294.85,263.43 L295.45,265.69 L296.05,268.53 L296.65,270.15 L297.25,270.96 L297.85,271.78 L298.45,272.60 L299.05,273.41 L299.65,274.23 L300.25,275.47 L300.85,277.31 L301.45,279.14 L302.05,280.98 L302.65,282.81 L303.25,284.65 L303.85,286.64 L304.45,289.39 L305.05,292.15 L305.65,294.90 L306.25,297.66 L306.85,301.02 L307.45,304.39 L308.05,307.75 L308.65,311.12 L309.25,313.98 L309.85,316.73 L310.45,319.48 L311.05,322.24 L311.65,324.32 L312.25,326.07 L312.85,327.82 L313.45,330.22 L314.05,332.84 L314.65,335.47 L315.25,335.77 L315.85,334.04 L316.45,332.18 L317.05,330.32 L317.65,328.46 L318.25,327.59 L318.85,327.05 L319.45,326.51 L320.05,325.93 L320.65,325.48 L321.25,325.10 L321.85,324.72 L322.45,324.10 L323.05,322.79 L323.65,321.48 L324.25,320.30 L324.85,319.38 L325.45,318.46 L326.05,315.15 L326.65,312.79 L327.25,311.46 L327.85,311.41 L328.45,312.64 L329.05,311.68 L329.65,312.60 L330.25,313.52 L330.85,312.50 L331.45,311.99 L332.05,312.90 L332.65,313.82 L333.25,314.74 L333.85,315.71 L334.45,316.93 L335.05,318.16 L335.65,319.38 L336.25,320.61 L336.85,321.55 L337.45,322.49 L338.05,323.43 L338.65,323.07 L339.25,321.89 L339.85,320.72 L340.45,319.96 L341.05,320.45 L341.65,320.94 L342.25,320.33 L342.85,320.13 L343.45,320.62 L344.05,320.60 L344.65,319.99 L345.25,319.38 L345.85,318.77 L346.45,318.16 L347.05,318.06 L347.65,318.06 L348.25,318.06 L348.85,318.06 L349.45,318.06 L350.05,318.06 L350.65,317.94 L351.25,317.73 L351.85,317.53 L352.45,317.32 L353.05,317.12 L353.65,316.92 L354.25,316.58 L354.85,315.96 L355.45,315.35 L356.05,314.74 L356.65,314.13 L357.25,313.52 L357.85,312.92 L358.45,312.51 L359.05,312.10 L359.65,311.70 L360.25,311.29 L360.85,310.88 L361.45,310.47 L362.05,309.80 L362.65,309.08 L363.25,308.36 L363.85,307.64 L364.45,306.92 L365.05,306.09 L365.65,304.13 L366.25,303.23 L366.85,302.92 L367.45,302.95 L368.05,302.47 L368.65,303.19 L369.25,304.27 L369.85,305.68 L370.45,306.27 L371.05,306.31 L371.65,306.23 L372.25,306.14 L372.85,306.16 L373.45,306.28 L374.05,306.20 L374.65,306.12 L375.25,306.54 L375.85,307.66 L376.45,308.78 L377.05,309.90 L377.65,310.23 L378.25,309.76 L378.85,309.29 L379.45,308.72 L380.05,308.11 L380.65,307.50 L381.25,306.89 L381.85,306.27 L382.45,305.66 L383.05,305.73 L383.65,306.68 L384.25,306.07 L384.85,305.46 L385.45,306.07 L386.05,307.09 L386.65,308.11 L387.25,309.13 L387.85,310.15 L388.45,310.93 L389.05,311.64 L389.65,312.35 L390.25,313.05 L390.85,313.76 L391.45,314.37 L392.05,314.77 L392.65,315.18 L393.25,315.59 L393.85,316.00 L394.45,315.94 L395.05,315.63 L395.65,316.22 L396.25,316.14 L396.85,315.84 L397.45,315.53 L398.05,316.63 L398.65,317.85 L399.25,319.08 L399.85,320.30 L400.45,318.16 L401.05,316.01 L401.65,313.92 L402.25,312.09 L402.85,310.25 L403.45,308.42 L404.05,306.58 L404.65,305.81 L405.25,303.93 L405.85,302.51 L406.45,301.55 L407.05,301.82 L407.65,302.14 L408.25,302.56 L408.85,303.60 L409.45,305.86 L410.05,306.63 L410.65,306.22 L411.25,305.61 L411.85,304.85 L412.45,303.93 L413.05,303.01 L413.65,302.09 L414.25,301.89 L414.85,303.11 L415.45,302.70 L416.05,301.79 L416.65,302.30 L417.25,303.52 L417.85,304.74 L418.45,305.97 L419.05,306.96 L419.65,307.73 L420.25,308.49 L420.85,308.67 L421.45,307.87 L422.05,307.07 L422.65,306.27 L423.25,305.98 L423.85,305.86 L424.45,305.73 L425.05,305.61 L425.65,305.49 L426.25,305.37 L426.85,304.69 L427.45,303.47 L428.05,302.24 L428.65,301.02 L429.25,299.69 L429.85,298.16 L430.45,296.63 L431.05,295.10 L431.65,293.68 L432.25,292.76 L432.85,291.84 L433.45,290.92 L434.05,290.00 L434.65,289.70 L435.25,289.39 L435.85,289.09 L436.45,287.75 L437.05,284.94 L437.65,282.06 L438.25,279.34 L438.85,276.80 L439.45,274.78 L440.05,273.10 L440.65,271.59 L441.25,270.26 L441.85,269.10 L442.45,268.74 L443.05,270.41 L443.65,271.49 L444.25,271.02 L444.85,272.18 L445.45,274.55 L446.05,276.97 L446.65,278.14 L447.25,279.32 L447.85,280.16 L448.45,280.77 L449.05,281.08 L449.65,280.47 L450.25,279.86 L450.85,280.37 L451.45,280.88 L452.05,280.26 L452.65,279.96 L453.25,280.57 L453.85,281.18 L454.45,281.79 L455.05,282.41 L455.65,283.02 L456.25,283.63 L456.85,283.96 L457.45,284.28 L458.05,284.61 L458.65,284.94 L459.25,284.88 L459.85,284.55 L460.45,284.23 L461.05,283.90 L461.65,283.66 L462.25,283.87 L462.85,284.07 L463.45,283.79 L464.05,283.73 L464.65,283.94 L465.25,284.14 L465.85,284.34 L466.45,284.55 L467.05,284.75 L467.65,284.98 L468.25,285.26 L468.85,285.55 L469.45,285.83 L470.05,286.12 L470.65,286.40 L471.25,286.69 L471.85,287.34 L472.45,288.00 L473.05,288.65 L473.65,289.30 L474.25,289.95 L474.85,290.61 L475.45,291.46 L476.05,289.37 L476.65,287.23 L477.25,285.08 L477.85,284.20 L478.45,283.44 L479.05,282.67 L479.65,281.91 L480.25,281.14 L480.85,280.71 L481.45,279.19 L482.05,277.58 L482.65,276.29 L483.25,275.32 L483.85,274.68 L484.45,274.21 L485.05,274.00 L485.65,274.11 L486.25,274.54 L486.85,275.28 L487.45,275.06 L488.05,274.17 L488.65,272.90 L489.25,271.62 L489.85,270.35 L490.45,269.07 L491.05,268.59 L491.65,269.20 L492.25,269.81 L492.85,268.65 L493.45,268.79 L494.05,269.40 L494.65,269.29 L495.25,268.58 L495.85,267.88 L496.45,266.06 L497.05,264.91 L497.65,264.24 L498.25,263.88 L498.85,263.10 L499.45,263.38 L500.05,263.99 L500.65,264.91 L501.25,265.61 L501.85,266.36 L502.45,266.14 L503.05,265.52 L503.65,264.91 L504.25,264.44 L504.85,264.23 L505.45,264.03 L506.05,263.82 L506.65,263.62 L507.25,263.42 L507.85,263.29 L508.45,263.76 L509.05,263.55 L509.65,263.35 L510.25,263.55 L510.85,264.31 L511.45,265.08 L512.05,265.84 L512.65,266.33 L513.25,266.09 L513.85,265.86 L514.45,266.49 L515.05,264.31 L515.65,261.55 L516.25,260.29 L516.85,262.29 L517.45,265.80 L518.05,268.20 L518.65,270.94 L519.25,273.43 L519.85,274.96 L520.45,276.49 L521.05,278.02 L521.65,278.59 L522.25,278.68 L522.85,278.76 L523.45,278.85 L524.05,278.94 L524.65,279.03 L525.25,279.31 L525.85,279.64 L526.45,279.96 L527.05,280.29 L527.65,280.62 L528.25,280.94 L528.85,281.32 L529.45,281.73 L530.05,282.13 L530.65,282.54 L531.25,282.95 L531.85,283.36 L532.45,283.83 L533.05,284.45 L533.65,285.06 L534.25,285.67 L534.85,286.28 L535.45,286.89 L536.05,287.45 L536.65,287.45 L537.25,287.45 L537.85,287.15 L538.45,286.54 L539.05,285.92 L539.65,285.31 L540.25,284.70 L540.85,284.09 L541.45,283.48 L542.05,282.86 L542.65,282.25 L543.25,281.64 L543.85,281.03 L544.45,280.42 L545.05,279.81 L545.65,278.81 L546.25,274.93 L546.85,272.16 L547.45,270.91 L548.05,271.89 L548.65,274.02 L549.25,277.37 L549.85,278.91 L550.45,278.35 L551.05,278.11 L551.65,278.31 L552.25,278.51 L552.85,278.16 L553.45,278.17 L554.05,278.38 L554.65,278.58 L555.25,278.35 L555.85,278.06 L556.45,277.78 L557.05,277.49 L557.65,277.19 L558.25,276.78 L558.85,276.37 L559.45,275.96 L560.05,275.55 L560.65,275.15 L561.25,274.74 L561.85,273.30 L562.45,271.77 L563.05,270.24 L563.65,268.71 L564.25,267.18 L564.85,264.55 L565.45,261.46 L566.05,258.76 L566.65,257.71 L567.25,257.96 L567.85,258.60 L568.45,257.58 L569.05,258.85 L569.65,260.70 L570.25,262.94 L570.85,263.63 L571.45,263.38 L572.05,264.06 L572.65,263.80 L573.25,263.55 L573.85,263.29 L574.45,265.81 L575.05,269.25 L575.65,272.70 L576.25,275.98 L576.85,279.04 L577.45,282.10 L578.05,285.16 L578.65,288.22 L579.25,291.28 L579.85,294.34 L580.45,297.40 L581.05,300.46 L581.65,303.52 L582.25,306.58 L582.85,309.64 L583.45,312.70 L584.05,314.64 L584.65,316.47 L585.25,318.31 L585.85,320.15 L586.45,321.75 L587.05,323.28 L587.65,324.81 L588.25,326.34 L588.85,328.17 L589.45,326.34 L590.05,323.72 L590.65,321.09 L591.25,318.28 L591.85,316.65 L592.45,315.12 L593.05,313.59 L593.65,312.06 L594.25,310.76 L594.85,309.54 L595.45,308.31 L596.05,306.85 L596.65,303.69 L597.25,301.60 L597.85,300.20 L598.45,299.49 L599.05,299.05 L599.65,298.72 L600.25,299.08 L600.85,301.25 L601.45,302.89 L602.05,303.01 L602.65,301.70 L603.25,302.26 L603.85,303.21 L604.45,304.15 L605.05,305.09 L605.65,306.03 L606.25,306.58 L606.85,305.74 L607.45,304.82 L608.05,303.90 L608.65,302.98 L609.25,301.99 L609.85,300.97 L610.45,299.95 L611.05,298.93 L611.65,297.91 L612.25,295.89 L612.85,293.22 L613.45,290.62 L614.05,288.09 L614.65,285.64 L615.25,283.41 L615.85,281.56 L616.45,279.79 L617.05,278.08 L617.65,276.45 L618.25,274.90 L618.85,273.43 L619.45,272.22 L620.05,271.09 L620.65,270.03 L621.25,269.05 L621.85,268.14 L622.45,267.30 L623.05,266.70 L623.65,266.22 L624.25,265.80 L624.85,265.46 L625.45,265.20 L626.05,264.93 L626.65,264.34 L627.25,264.05 L627.85,263.77 L628.45,263.48 L629.05,263.06 L629.65,261.36 L630.25,260.04 L630.85,259.14 L631.45,258.57 L632.05,258.31 L632.65,258.38 L633.25,258.76 L633.85,259.46 L634.45,260.40 L635.05,261.53 L635.65,261.33 L636.25,261.12 L636.85,260.92 L637.45,260.71 L638.05,261.26 L638.65,261.05 L639.25,260.85 L639.85,260.83 L640.45,261.75 L641.05,262.67 L641.65,263.59 L642.25,264.51 L642.85,265.73 L643.45,266.95 L644.05,268.18 L644.65,269.40 L645.25,270.37 L645.85,271.29 L646.45,272.21 L647.05,273.12 L647.65,273.70 L648.25,274.11 L648.85,274.52 L649.45,274.93 L650.05,275.13 L650.65,274.72 L651.25,274.31 L651.85,273.91 L652.45,273.50 L653.05,273.60 L653.65,273.80 L654.25,273.77 L654.85,273.46 L655.45,272.47 L656.05,271.55 L656.65,271.17 L657.25,271.33 L657.85,272.03 L658.45,273.26 L659.05,275.27 L659.65,275.88 L660.25,276.49 L660.85,277.10 L661.45,278.40 L662.05,279.93 L662.65,281.46 L663.25,282.99 L663.85,283.99 L664.45,284.60 L665.05,285.21 L665.65,285.24 L666.25,284.93 L666.85,285.75 L667.45,285.44 L668.05,285.13 L668.65,285.98 L669.25,290.26 L669.85,295.26 L670.45,303.83 L671.05,312.15 L671.65,317.74 L672.25,323.34 L672.85,328.80 L673.45,333.75 L674.05,338.75 L674.65,340.57 L675.25,341.33 L675.85,341.98 L676.45,342.12 L677.05,343.04 L677.65,342.40 L678.25,341.76 L678.85,342.94 L679.45,345.41 L680.05,347.89 L680.65,350.36 L681.25,353.31 L681.85,356.94 L682.45,360.57 L683.05,364.20 L683.65,367.43 L684.25,363.91 L684.85,359.90 L685.45,355.04 L686.05,350.18 L686.65,345.32 L687.25,339.18 L687.85,332.12 L688.45,325.99 L689.05,321.15 L689.65,318.97 L690.25,317.02 L690.85,314.82 L691.45,312.84 L692.05,311.12 L692.65,306.27 L693.25,302.69 L693.85,300.38 L694.45,300.45 L695.05,300.68 L695.65,302.17 L696.25,304.92 L696.85,313.52 L697.45,322.34 L698.05,329.00 L698.65,332.99 L699.25,336.98 L699.85,340.97 L700.45,344.57 L701.05,347.63 L701.65,350.69 L702.25,353.75 L702.85,356.92 L703.45,360.11 L704.05,363.30 L704.65,366.48 L705.25,369.67 L705.85,372.77 L706.45,375.80 L707.05,378.82 L707.65,381.80 L708.25,384.20 L708.85,386.60 L709.45,389.00 L710.05,391.48 L710.65,394.00 L711.25,391.67 L711.85,385.45 L712.45,381.22 L713.05,376.99 L713.65,372.76 L714.25,369.63 L714.85,367.29 L715.45,364.94 L716.05,362.60 L716.65,359.10 L717.25,355.50 L717.85,352.55 L718.45,350.05 L719.05,350.02 L719.65,353.42 L720.25,351.72 L720.85,349.22 L721.45,351.15 L722.05,354.55 L722.65,357.41 L723.25,358.64 L723.85,359.86 L724.45,360.37 L725.05,361.17 L725.65,360.87 L726.25,360.57 L726.85,360.46 L727.45,361.73 L728.05,361.50 L728.65,361.74 L729.25,361.98 L729.85,361.54 L730.45,361.58 L731.05,360.06 L731.65,358.19 L732.25,356.86 L732.85,356.28 L733.45,355.70 L734.05,355.11 L734.65,354.53 L735.25,354.05 L735.85,354.62 L736.45,354.92 L737.05,354.34 L737.65,354.24 L738.25,353.28 L738.85,351.56 L739.45,349.84 L740.05,350.10 L740.65,350.53 L741.25,350.96 L741.85,349.81 L742.45,350.24 L743.05,350.68 L743.65,351.05 L744.25,350.40 L744.85,348.60 L745.45,346.80 L746.05,345.00 L746.65,344.13 L747.25,343.93 L747.85,343.73 L748.45,343.53 L749.05,343.33 L749.65,343.13 L750.25,343.40 L750.85,343.47 L751.45,343.27 L752.05,343.07 L752.65,343.80 L753.25,343.55 L753.85,342.97 L754.45,342.67 L755.05,342.37 L755.65,342.07 L756.25,341.77 L756.85,340.37 L757.45,338.87 L758.05,337.37 L758.65,335.87 L759.25,334.82 L759.85,333.92 L760.45,333.02 L761.05,332.12 L761.65,331.22 L762.25,330.32 L762.85,329.42 L763.45,328.52 L764.05,327.37 L764.65,325.87 L765.25,324.37 L765.85,322.87 L766.45,321.27 L767.05,319.87 L767.65,318.46 L768.25,315.91 L768.85,312.46 L769.45,311.88 L770.05,311.99 L770.65,310.60 L771.25,310.71 L771.85,312.90 L772.45,316.76 L773.05,323.02 L773.05,328.00Z" fill="#f5e532"/>
<path d="M30.25,328.00 L30.25,291.15 L30.85,288.40 L31.45,285.90 L32.05,283.40 L32.65,280.90 L33.25,280.32 L33.85,280.38 L34.45,280.32 L35.05,280.38 L35.65,280.25 L36.25,279.76 L36.85,279.28 L37.45,278.79 L38.05,278.31 L38.65,277.82 L39.25,276.58 L39.85,273.81 L40.45,271.04 L41.05,268.41 L41.65,265.99 L42.25,263.56 L42.85,261.26 L43.45,260.25 L44.05,259.24 L44.65,258.23 L45.25,257.22 L45.85,256.21 L46.45,255.20 L47.05,253.51 L47.65,251.69 L48.25,249.88 L48.85,248.06 L49.45,246.24 L50.05,244.42 L50.65,243.31 L51.25,242.71 L51.85,242.10 L52.45,241.49 L53.05,241.39 L53.65,241.49 L54.25,241.39 L54.85,242.00 L55.45,242.60 L56.05,243.21 L56.65,243.82 L57.25,244.42 L57.85,245.16 L58.45,246.58 L59.05,247.99 L59.65,249.41 L60.25,250.82 L60.85,252.23 L61.45,253.65 L62.05,254.69 L62.65,255.70 L63.25,256.71 L63.85,257.72 L64.45,258.73 L65.05,259.74 L65.65,261.15 L66.25,262.77 L66.85,264.39 L67.45,266.00 L68.05,267.62 L68.65,269.23 L69.25,270.56 L69.85,271.47 L70.45,272.37 L71.05,273.21 L71.65,272.60 L72.25,272.00 L72.85,270.28 L73.45,269.40 L74.05,268.52 L74.65,269.99 L75.25,272.42 L75.85,274.24 L76.45,275.15 L77.05,277.45 L77.65,279.87 L78.25,282.30 L78.85,284.72 L79.45,285.78 L80.05,286.39 L80.65,286.99 L81.25,286.89 L81.85,286.29 L82.45,285.68 L83.05,284.07 L83.65,283.22 L84.25,282.54 L84.85,282.99 L85.45,283.98 L86.05,285.51 L86.65,287.11 L87.25,287.52 L87.85,288.16 L88.45,289.97 L89.05,291.79 L89.65,293.61 L90.25,295.43 L90.85,297.59 L91.45,298.46 L92.05,295.43 L92.65,295.68 L93.25,295.43 L93.85,295.68 L94.45,298.28 L95.05,300.87 L95.65,302.14 L96.25,302.75 L96.85,303.36 L97.45,303.96 L98.05,304.06 L98.65,303.98 L99.25,303.32 L99.85,301.95 L100.45,300.55 L101.05,298.69 L101.65,296.99 L102.25,295.48 L102.85,294.13 L103.45,292.95 L104.05,291.95 L104.65,290.54 L105.25,289.30 L105.85,288.23 L106.45,287.33 L107.05,286.36 L107.65,285.50 L108.25,284.82 L108.85,284.32 L109.45,286.49 L110.05,284.67 L110.65,286.95 L111.25,291.28 L111.85,295.61 L112.45,302.09 L113.05,309.28 L113.65,297.50 L114.25,286.29 L114.85,285.38 L115.45,284.47 L116.05,278.90 L116.65,274.03 L117.25,270.53 L117.85,268.15 L118.45,266.89 L119.05,266.75 L119.65,267.73 L120.25,269.83 L120.85,274.26 L121.45,278.60 L122.05,279.85 L122.65,280.76 L123.25,281.67 L123.85,282.58 L124.45,283.65 L125.05,283.88 L125.65,277.39 L126.25,270.90 L126.85,267.09 L127.45,265.96 L128.05,264.84 L128.65,265.96 L129.25,264.84 L129.85,267.20 L130.45,272.05 L131.05,276.92 L131.65,282.12 L132.25,287.31 L132.85,291.94 L133.45,293.76 L134.05,295.58 L134.65,297.40 L135.25,298.41 L135.85,298.00 L136.45,296.57 L137.05,294.94 L137.65,293.48 L138.25,292.28 L138.85,291.27 L139.45,290.43 L140.05,289.77 L140.65,289.28 L141.25,288.96 L141.85,288.82 L142.45,288.85 L143.05,288.92 L143.65,288.99 L144.25,289.24 L144.85,289.65 L145.45,290.24 L146.05,290.88 L146.65,290.28 L147.25,289.67 L147.85,289.12 L148.45,289.20 L149.05,289.12 L149.65,289.20 L150.25,289.28 L150.85,289.36 L151.45,289.44 L152.05,289.53 L152.65,289.61 L153.25,290.06 L153.85,290.58 L154.45,291.11 L155.05,291.63 L155.65,292.16 L156.25,292.68 L156.85,292.75 L157.45,292.69 L158.05,291.54 L158.65,288.87 L159.25,286.21 L159.85,283.54 L160.45,281.31 L161.05,280.40 L161.65,279.49 L162.25,278.59 L162.85,277.72 L163.45,277.31 L164.05,276.91 L164.65,275.92 L165.25,273.55 L165.85,271.76 L166.45,270.54 L167.05,269.46 L167.65,268.86 L168.25,268.84 L168.85,269.40 L169.45,270.54 L170.05,269.81 L170.65,269.42 L171.25,269.42 L171.85,269.42 L172.45,269.42 L173.05,269.42 L173.65,269.42 L174.25,269.80 L174.85,270.71 L175.45,271.62 L176.05,272.53 L176.65,273.43 L177.25,274.59 L177.85,276.08 L178.45,277.57 L179.05,279.06 L179.65,280.55 L180.25,280.67 L180.85,279.98 L181.45,279.30 L182.05,278.61 L182.65,277.92 L183.25,277.00 L183.85,275.99 L184.45,274.98 L185.05,273.97 L185.65,272.96 L186.25,271.15 L186.85,268.50 L187.45,266.26 L188.05,264.42 L188.65,262.97 L189.25,261.93 L189.85,261.29 L190.45,261.03 L191.05,261.13 L191.65,261.62 L192.25,261.65 L192.85,260.58 L193.45,259.51 L194.05,258.44 L194.65,257.71 L195.25,258.44 L195.85,257.71 L196.45,258.64 L197.05,259.57 L197.65,260.50 L198.25,261.44 L198.85,262.37 L199.45,263.06 L200.05,263.66 L200.65,264.27 L201.25,264.87 L201.85,265.48 L202.45,266.09 L203.05,266.79 L203.65,267.60 L204.25,268.41 L204.85,269.22 L205.45,270.03 L206.05,270.83 L206.65,271.69 L207.25,272.70 L207.85,273.71 L208.45,274.72 L209.05,275.73 L209.65,276.74 L210.25,277.75 L210.85,278.76 L211.45,279.77 L212.05,280.78 L212.65,281.79 L213.25,282.80 L213.85,283.81 L214.45,284.56 L215.05,285.23 L215.65,285.90 L216.25,286.56 L216.85,287.23 L217.45,287.90 L218.05,288.56 L218.65,289.23 L219.25,289.66 L219.85,289.75 L220.45,289.84 L221.05,289.93 L221.65,289.65 L222.25,288.41 L222.85,287.40 L223.45,286.56 L224.05,285.78 L224.65,285.23 L225.25,284.90 L225.85,284.80 L226.45,284.92 L227.05,284.97 L227.65,285.18 L228.25,285.61 L228.85,286.27 L229.45,287.15 L230.05,286.79 L230.65,286.32 L231.25,285.87 L231.85,285.42 L232.45,284.96 L233.05,284.51 L233.65,284.05 L234.25,283.60 L234.85,283.14 L235.45,282.76 L236.05,282.61 L236.65,282.46 L237.25,282.31 L237.85,282.16 L238.45,282.01 L239.05,281.86 L239.65,281.70 L240.25,281.55 L240.85,281.14 L241.45,280.70 L242.05,280.27 L242.65,279.83 L243.25,279.39 L243.85,278.96 L244.45,278.52 L245.05,278.09 L245.65,277.65 L246.25,277.21 L246.85,277.26 L247.45,277.21 L248.05,277.26 L248.65,277.78 L249.25,278.31 L249.85,278.83 L250.45,279.36 L251.05,279.88 L251.65,280.38 L252.25,280.78 L252.85,281.19 L253.45,281.59 L254.05,281.99 L254.65,282.40 L255.25,282.56 L255.85,282.44 L256.45,282.32 L257.05,282.20 L257.65,282.08 L258.25,282.20 L258.85,282.08 L259.45,282.23 L260.05,282.32 L260.65,281.08 L261.25,280.38 L261.85,280.21 L262.45,280.59 L263.05,281.51 L263.65,282.97 L264.25,284.13 L264.85,284.28 L265.45,284.43 L266.05,284.58 L266.65,284.73 L267.25,284.89 L267.85,285.04 L268.45,284.94 L269.05,284.59 L269.65,284.24 L270.25,283.88 L270.85,283.51 L271.45,282.85 L272.05,282.19 L272.65,281.54 L273.25,280.88 L273.85,279.36 L274.45,277.65 L275.05,276.27 L275.65,275.20 L276.25,274.45 L276.85,273.36 L277.45,272.31 L278.05,271.83 L278.65,271.90 L279.25,273.02 L279.85,273.64 L280.45,273.94 L281.05,274.64 L281.65,275.59 L282.25,276.77 L282.85,277.45 L283.45,276.84 L284.05,276.24 L284.65,275.63 L285.25,275.03 L285.85,274.42 L286.45,273.81 L287.05,273.21 L287.65,272.58 L288.25,271.82 L288.85,271.06 L289.45,270.30 L290.05,269.41 L290.65,267.24 L291.25,265.39 L291.85,263.86 L292.45,262.65 L293.05,263.15 L293.65,262.70 L294.25,263.84 L294.85,265.58 L295.45,267.63 L296.05,269.87 L296.65,270.72 L297.25,271.52 L297.85,272.33 L298.45,273.14 L299.05,273.95 L299.65,274.76 L300.25,275.98 L300.85,277.80 L301.45,279.62 L302.05,281.44 L302.65,283.26 L303.25,285.08 L303.85,287.04 L304.45,289.77 L305.05,292.50 L305.65,295.23 L306.25,297.95 L306.85,301.29 L307.45,304.62 L308.05,307.95 L308.65,311.28 L309.25,314.11 L309.85,316.84 L310.45,319.57 L311.05,322.29 L311.65,324.36 L312.25,326.09 L312.85,327.82 L313.45,330.22 L314.05,332.84 L314.65,335.47 L315.25,336.27 L315.85,335.97 L316.45,335.28 L317.05,333.42 L317.65,331.56 L318.25,329.70 L318.85,327.95 L319.45,327.41 L320.05,322.27 L320.65,319.83 L321.25,317.92 L321.85,316.69 L322.45,316.00 L323.05,315.85 L323.65,315.68 L324.25,315.66 L324.85,316.17 L325.45,317.47 L326.05,319.16 L326.65,318.25 L327.25,317.34 L327.85,316.28 L328.45,315.07 L329.05,313.86 L329.65,312.65 L330.25,312.14 L330.85,312.65 L331.45,312.14 L332.05,313.05 L332.65,313.96 L333.25,314.87 L333.85,315.83 L334.45,317.04 L335.05,318.25 L335.65,319.47 L336.25,320.68 L336.85,321.61 L337.45,322.54 L338.05,323.47 L338.65,324.41 L339.25,323.89 L339.85,322.73 L340.45,321.57 L341.05,320.40 L341.65,320.20 L342.25,320.40 L342.85,320.20 L343.45,320.69 L344.05,321.17 L344.65,321.08 L345.25,320.48 L345.85,319.87 L346.45,317.88 L347.05,315.77 L347.65,314.16 L348.25,313.46 L348.85,313.16 L349.45,313.27 L350.05,313.77 L350.65,314.67 L351.25,315.97 L351.85,317.48 L352.45,317.77 L353.05,317.56 L353.65,317.36 L354.25,317.16 L354.85,316.96 L355.45,316.49 L356.05,315.88 L356.65,315.27 L357.25,314.67 L357.85,314.06 L358.45,313.46 L359.05,312.93 L359.65,312.53 L360.25,312.13 L360.85,311.72 L361.45,311.32 L362.05,309.58 L362.65,307.98 L363.25,306.44 L363.85,305.22 L364.45,304.32 L365.05,303.74 L365.65,303.48 L366.25,303.54 L366.85,304.00 L367.45,305.65 L368.05,305.55 L368.65,305.78 L369.25,306.01 L369.85,306.25 L370.45,306.48 L371.05,306.66 L371.65,306.57 L372.25,306.49 L372.85,306.41 L373.45,306.33 L374.05,306.41 L374.65,306.33 L375.25,306.75 L375.85,307.86 L376.45,308.97 L377.05,310.08 L377.65,311.18 L378.25,310.71 L378.85,310.25 L379.45,309.78 L380.05,309.31 L380.65,308.71 L381.25,308.10 L381.85,306.46 L382.45,304.43 L383.05,302.86 L383.65,301.76 L384.25,302.32 L384.85,302.14 L385.45,303.63 L386.05,305.98 L386.65,308.31 L387.25,309.32 L387.85,310.33 L388.45,311.10 L389.05,311.80 L389.65,312.50 L390.25,313.20 L390.85,313.90 L391.45,314.50 L392.05,314.90 L392.65,315.31 L393.25,315.71 L393.85,316.12 L394.45,316.52 L395.05,316.26 L395.65,315.96 L396.25,315.65 L396.85,315.96 L397.45,315.65 L398.05,316.74 L398.65,317.95 L399.25,319.16 L399.85,320.37 L400.45,319.92 L401.05,316.20 L401.65,312.76 L402.25,309.80 L402.85,307.47 L403.45,305.77 L404.05,304.55 L404.65,303.82 L405.25,304.06 L405.85,305.80 L406.45,306.08 L407.05,305.78 L407.65,305.63 L408.25,305.78 L408.85,305.63 L409.45,306.23 L410.05,306.84 L410.65,307.45 L411.25,306.84 L411.85,306.23 L412.45,305.63 L413.05,304.77 L413.65,303.86 L414.25,302.95 L414.85,302.04 L415.45,302.55 L416.05,302.04 L416.65,302.55 L417.25,303.76 L417.85,304.97 L418.45,306.18 L419.05,307.17 L419.65,307.93 L420.25,308.68 L420.85,309.44 L421.45,309.39 L422.05,308.60 L422.65,307.23 L423.25,304.57 L423.85,302.70 L424.45,302.16 L425.05,302.34 L425.65,303.23 L426.25,304.85 L426.85,305.67 L427.45,305.55 L428.05,304.52 L428.65,302.89 L429.25,300.18 L429.85,297.77 L430.45,295.45 L431.05,293.32 L431.65,291.49 L432.25,289.95 L432.85,289.01 L433.45,288.66 L434.05,288.61 L434.65,288.85 L435.25,289.59 L435.85,289.97 L436.45,289.67 L437.05,289.37 L437.65,288.81 L438.25,286.99 L438.85,285.18 L439.45,283.36 L440.05,281.54 L440.65,280.23 L441.25,278.93 L441.85,277.62 L442.45,276.32 L443.05,275.01 L443.65,275.15 L444.25,275.01 L444.85,275.15 L445.45,276.31 L446.05,277.47 L446.65,278.63 L447.25,279.79 L447.85,280.63 L448.45,281.24 L449.05,281.84 L449.65,281.94 L450.25,281.34 L450.85,280.73 L451.45,280.43 L452.05,280.73 L452.65,280.43 L453.25,281.04 L453.85,281.64 L454.45,282.25 L455.05,282.85 L455.65,283.46 L456.25,284.07 L456.85,284.39 L457.45,284.71 L458.05,285.03 L458.65,285.36 L459.25,285.68 L459.85,284.48 L460.45,282.73 L461.05,281.45 L461.65,280.63 L462.25,280.27 L462.85,280.63 L463.45,281.57 L464.05,282.86 L464.65,284.37 L465.25,284.57 L465.85,284.77 L466.45,284.97 L467.05,285.18 L467.65,285.40 L468.25,285.68 L468.85,285.96 L469.45,286.25 L470.05,286.53 L470.65,286.81 L471.25,287.10 L471.85,287.74 L472.45,288.39 L473.05,289.03 L473.65,289.68 L474.25,290.33 L474.85,290.97 L475.45,291.82 L476.05,292.73 L476.65,291.16 L477.25,289.04 L477.85,286.92 L478.45,283.47 L479.05,280.92 L479.65,278.84 L480.25,277.24 L480.85,276.12 L481.45,275.57 L482.05,275.77 L482.65,276.45 L483.25,277.60 L483.85,279.24 L484.45,279.42 L485.05,279.01 L485.65,278.41 L486.25,277.80 L486.85,277.20 L487.45,276.59 L488.05,275.98 L488.65,275.38 L489.25,274.28 L489.85,273.02 L490.45,271.76 L491.05,270.49 L491.65,269.23 L492.25,269.37 L492.85,269.23 L493.45,268.17 L494.05,267.65 L494.65,267.67 L495.25,267.38 L495.85,267.18 L496.45,267.51 L497.05,268.24 L497.65,267.69 L498.25,267.89 L498.85,267.69 L499.45,267.89 L500.05,268.09 L500.65,268.29 L501.25,268.49 L501.85,268.36 L502.45,267.75 L503.05,267.15 L503.65,266.54 L504.25,265.94 L504.85,265.33 L505.45,264.99 L506.05,264.79 L506.65,264.59 L507.25,264.39 L507.85,264.18 L508.45,262.39 L509.05,261.08 L509.65,260.11 L510.25,260.24 L510.85,261.66 L511.45,263.80 L512.05,266.45 L512.65,267.21 L513.25,267.09 L513.85,266.86 L514.45,266.62 L515.05,266.39 L515.65,266.62 L516.25,266.39 L516.85,267.91 L517.45,269.42 L518.05,270.94 L518.65,272.45 L519.25,273.97 L519.85,275.48 L520.45,277.00 L521.05,277.34 L521.65,276.95 L522.25,276.43 L522.85,276.26 L523.45,276.43 L524.05,276.95 L524.65,277.81 L525.25,278.52 L525.85,278.10 L526.45,277.66 L527.05,277.76 L527.65,278.40 L528.25,279.58 L528.85,279.26 L529.45,277.25 L530.05,275.74 L530.65,275.14 L531.25,275.47 L531.85,276.72 L532.45,278.96 L533.05,282.25 L533.65,285.48 L534.25,286.09 L534.85,286.69 L535.45,287.30 L536.05,287.85 L536.65,287.85 L537.25,287.85 L537.85,287.85 L538.45,287.85 L539.05,287.35 L539.65,286.74 L540.25,286.14 L540.85,285.53 L541.45,283.22 L542.05,280.67 L542.65,278.47 L543.25,276.64 L543.85,275.16 L544.45,274.04 L545.05,273.29 L545.65,272.89 L546.25,273.16 L546.85,274.39 L547.45,275.38 L548.05,277.33 L548.65,279.65 L549.25,280.89 L549.85,280.33 L550.45,279.77 L551.05,279.21 L551.65,278.65 L552.25,278.66 L552.85,278.65 L553.45,278.66 L554.05,278.86 L554.65,279.07 L555.25,279.27 L555.85,279.03 L556.45,278.74 L557.05,278.46 L557.65,278.18 L558.25,277.89 L558.85,276.06 L559.45,273.37 L560.05,271.04 L560.65,269.07 L561.25,267.45 L561.85,266.18 L562.45,265.00 L563.05,263.33 L563.65,262.03 L564.25,261.08 L564.85,260.48 L565.45,260.24 L566.05,260.35 L566.65,260.82 L567.25,261.65 L567.85,263.16 L568.45,262.73 L569.05,263.16 L569.65,263.76 L570.25,264.37 L570.85,264.69 L571.45,264.43 L572.05,264.18 L572.65,263.93 L573.25,264.18 L573.85,263.93 L574.45,266.42 L575.05,269.83 L575.65,273.24 L576.25,276.49 L576.85,279.52 L577.45,282.55 L578.05,285.58 L578.65,288.61 L579.25,291.64 L579.85,294.67 L580.45,297.70 L581.05,300.73 L581.65,303.76 L582.25,306.79 L582.85,309.82 L583.45,312.85 L584.05,314.77 L584.65,316.59 L585.25,318.41 L585.85,320.22 L586.45,321.81 L587.05,323.33 L587.65,324.84 L588.25,326.36 L588.85,328.17 L589.45,329.83 L590.05,327.83 L590.65,325.47 L591.25,318.85 L591.85,313.86 L592.45,309.88 L593.05,307.46 L593.65,305.77 L594.25,304.79 L594.85,304.56 L595.45,305.33 L596.05,306.82 L596.65,308.10 L597.25,306.89 L597.85,306.51 L598.45,306.21 L599.05,305.91 L599.65,305.60 L600.25,304.55 L600.85,303.25 L601.45,301.96 L602.05,302.52 L602.65,301.96 L603.25,302.52 L603.85,303.45 L604.45,304.38 L605.05,305.31 L605.65,306.25 L606.25,306.79 L606.85,306.79 L607.45,306.56 L608.05,305.65 L608.65,304.74 L609.25,303.84 L609.85,302.92 L610.45,301.48 L611.05,299.94 L611.65,298.47 L612.25,297.05 L612.85,295.62 L613.45,293.47 L614.05,291.38 L614.65,289.36 L615.25,287.39 L615.85,285.48 L616.45,283.93 L617.05,282.59 L617.65,281.31 L618.25,280.09 L618.85,278.93 L619.45,277.83 L620.05,276.88 L620.65,276.10 L621.25,275.38 L621.85,274.73 L622.45,273.66 L623.05,272.45 L623.65,271.27 L624.25,270.26 L624.85,269.25 L625.45,268.24 L626.05,267.23 L626.65,266.22 L627.25,265.21 L627.85,264.87 L628.45,264.59 L629.05,264.30 L629.65,264.02 L630.25,263.74 L630.85,263.45 L631.45,263.28 L632.05,263.16 L632.65,263.04 L633.25,262.92 L633.85,262.79 L634.45,262.67 L635.05,262.52 L635.65,262.32 L636.25,262.11 L636.85,261.91 L637.45,261.71 L638.05,261.51 L638.65,261.49 L639.25,261.51 L639.85,261.49 L640.45,262.40 L641.05,263.31 L641.65,264.22 L642.25,265.13 L642.85,266.34 L643.45,267.55 L644.05,268.76 L644.65,269.98 L645.25,270.94 L645.85,271.84 L646.45,272.75 L647.05,273.66 L647.65,274.23 L648.25,274.64 L648.85,275.04 L649.45,275.45 L650.05,275.85 L650.65,275.92 L651.25,274.37 L651.85,271.72 L652.45,269.76 L653.05,268.50 L653.65,268.02 L654.25,268.74 L654.85,269.75 L655.45,271.85 L656.05,274.40 L656.65,274.60 L657.25,274.81 L657.85,275.01 L658.45,275.21 L659.05,275.78 L659.65,276.39 L660.25,277.00 L660.85,277.60 L661.45,278.89 L662.05,280.40 L662.65,281.92 L663.25,283.43 L663.85,284.42 L664.45,285.02 L665.05,285.63 L665.65,286.16 L666.25,284.64 L666.85,282.31 L667.45,281.86 L668.05,282.09 L668.65,284.74 L669.25,290.63 L669.85,295.58 L670.45,304.06 L671.05,312.30 L671.65,317.84 L672.25,323.38 L672.85,328.80 L673.45,333.75 L674.05,338.75 L674.65,340.57 L675.25,341.33 L675.85,342.09 L676.45,342.40 L677.05,341.76 L677.65,342.40 L678.25,341.76 L678.85,342.94 L679.45,345.41 L680.05,347.89 L680.65,350.36 L681.25,353.31 L681.85,356.94 L682.45,360.57 L683.05,364.20 L683.65,367.43 L684.25,370.49 L684.85,366.54 L685.45,362.60 L686.05,358.28 L686.65,353.42 L687.25,348.56 L687.85,343.70 L688.45,336.83 L689.05,329.77 L689.65,324.37 L690.25,320.26 L690.85,312.58 L691.45,308.02 L692.05,304.62 L692.65,302.37 L693.25,302.51 L693.85,304.23 L694.45,307.09 L695.05,310.70 L695.65,311.01 L696.25,310.70 L696.85,314.93 L697.45,322.40 L698.05,329.00 L698.65,332.99 L699.25,336.98 L699.85,340.97 L700.45,344.57 L701.05,347.63 L701.65,350.69 L702.25,353.75 L702.85,356.92 L703.45,360.11 L704.05,363.30 L704.65,366.48 L705.25,369.67 L705.85,372.77 L706.45,375.80 L707.05,378.82 L707.65,381.80 L708.25,384.20 L708.85,386.60 L709.45,389.00 L710.05,391.48 L710.65,394.00 L711.25,396.53 L711.85,395.93 L712.45,389.53 L713.05,384.04 L713.65,379.81 L714.25,375.58 L714.85,371.35 L715.45,368.85 L716.05,366.50 L716.65,364.16 L717.25,361.50 L717.85,357.90 L718.45,354.30 L719.05,351.72 L719.65,349.22 L720.25,351.15 L720.85,349.22 L721.45,351.15 L722.05,354.55 L722.65,357.41 L723.25,358.64 L723.85,359.86 L724.45,360.87 L725.05,360.57 L725.65,360.46 L726.25,360.57 L726.85,360.46 L727.45,362.38 L728.05,362.12 L728.65,361.54 L729.25,361.58 L729.85,361.54 L730.45,361.58 L731.05,361.82 L731.65,361.31 L732.25,359.44 L732.85,357.57 L733.45,356.66 L734.05,356.08 L734.65,355.50 L735.25,354.92 L735.85,354.34 L736.45,354.24 L737.05,354.34 L737.65,354.24 L738.25,354.81 L738.85,354.42 L739.45,352.71 L740.05,350.99 L740.65,349.81 L741.25,350.24 L741.85,349.81 L742.45,350.24 L743.05,350.68 L743.65,351.05 L744.25,351.23 L744.85,351.41 L745.45,349.80 L746.05,348.00 L746.65,346.20 L747.25,344.40 L747.85,344.07 L748.45,343.87 L749.05,343.67 L749.65,343.47 L750.25,343.27 L750.85,343.07 L751.45,343.27 L752.05,343.07 L752.65,343.80 L753.25,344.55 L753.85,343.95 L754.45,343.35 L755.05,342.87 L755.65,342.57 L756.25,342.27 L756.85,341.97 L757.45,341.37 L758.05,339.87 L758.65,338.37 L759.25,336.87 L759.85,335.42 L760.45,334.52 L761.05,333.62 L761.65,332.72 L762.25,331.82 L762.85,330.92 L763.45,330.02 L764.05,329.12 L764.65,328.22 L765.25,326.87 L765.85,325.37 L766.45,321.84 L767.05,318.45 L767.65,316.03 L768.25,314.56 L768.85,313.99 L769.45,314.32 L770.05,316.28 L770.65,316.69 L771.25,316.28 L771.85,317.25 L772.45,319.19 L773.05,323.07 L773.05,328.00Z" fill="#2bbcd6"/>
<path d="M309.4,328 L312,336 L315,345 L316.9,338 L318,330 L318,328Z" fill="#f5e532"/>
<path d="M583.5,328 L585.5,333 L587.25,337 L589,333 L590,328Z" fill="#f5e532"/>
<path d="M672.9,328 L673.3,345 L674.6,367.7 L676,355 L677.6,344 L679,350 L680.6,362.4 L682.7,364.5 L682.7,328Z" fill="#f5e532"/>
<path d="M672.3,328 L672.6,345 L673.5,357 L674.3,345 L674.5,328Z" fill="#2bbcd6"/>
<path d="M698.6,328 L700.4,360 L702,388 L704.4,409.4 L706.6,392.5 L708.3,384 L710,392 L711,399 L711,328Z" fill="#f5e532"/>
<path d="M697.4,328 L698.4,336 L700.1,355 L701.8,376 L703.4,393 L704.6,384 L706,372 L707,328Z" fill="#2bbcd6"/>
<path d="M714.00,328.00 L714.00,385.80 L714.50,382.28 L715.00,378.75 L715.50,375.23 L716.00,371.70 L716.50,369.44 L717.00,367.48 L717.50,365.53 L718.00,363.57 L718.50,361.20 L719.00,358.20 L719.50,355.20 L720.00,352.75 L720.50,350.68 L721.00,350.40 L721.50,354.63 L722.00,358.47 L722.50,361.90 L723.00,363.12 L723.50,363.95 L724.00,364.37 L724.50,364.40 L725.00,363.00 L725.50,360.95 L726.00,360.70 L726.50,360.45 L727.00,360.94 L727.50,362.54 L728.00,363.31 L728.50,362.83 L729.00,362.35 L729.50,361.88 L730.00,361.40 L730.50,361.60 L731.00,361.80 L731.50,362.00 L732.00,364.64 L732.50,369.01 L733.00,368.84 L733.50,365.89 L734.00,360.17 L734.50,356.81 L735.00,356.33 L735.50,355.84 L736.00,355.36 L736.50,354.87 L737.00,354.39 L737.50,354.10 L738.00,354.57 L738.50,355.05 L739.00,355.52 L739.50,356.00 L740.00,354.57 L740.50,353.14 L741.00,351.70 L741.50,350.27 L742.00,349.92 L742.50,350.28 L743.00,352.32 L743.50,354.06 L744.00,355.27 L744.50,356.19 L745.00,356.80 L745.50,357.10 L746.00,357.10 L746.50,355.14 L747.00,352.88 L747.50,350.31 L748.00,347.43 L748.50,344.25 L749.00,344.08 L749.50,345.23 L750.00,346.00 L750.50,346.40 L751.00,346.42 L751.50,346.06 L752.00,345.33 L752.50,344.81 L753.00,344.50 L753.50,345.50 L754.00,345.00 L754.50,344.50 L755.00,345.80 L755.50,346.70 L756.00,347.20 L756.50,347.55 L757.00,347.50 L757.50,347.05 L758.00,346.20 L758.50,344.95 L759.00,342.30 L759.50,339.25 L760.00,338.00 L760.50,336.75 L761.00,335.50 L761.50,334.75 L762.00,336.22 L762.50,336.81 L763.00,336.50 L763.50,335.31 L764.00,333.22 L764.50,330.25 L765.00,329.50 L765.50,328.75 L766.00,328.00 L766.00,328.00Z" fill="#2bbcd6"/>
<path d="M773.2,328 L773.2,343 L774,343 L774,328Z" fill="#2bbcd6" opacity="0.8"/>
<path d="M30.25,328.00 L30.25,296.63 L31.35,291.33 L32.45,286.91 L33.55,282.96 L34.65,281.09 L35.75,281.41 L36.85,281.02 L37.95,279.51 L39.05,279.04 L40.15,277.99 L41.25,273.83 L42.35,268.63 L43.45,263.87 L44.55,261.28 L45.65,259.90 L46.75,257.02 L47.85,255.98 L48.95,251.47 L50.05,248.51 L51.15,245.18 L52.25,244.09 L53.35,243.27 L54.45,242.79 L55.55,243.31 L56.65,245.18 L57.75,245.51 L58.85,247.95 L59.95,251.45 L61.05,253.63 L62.15,255.85 L63.25,257.65 L64.35,259.92 L65.45,261.24 L66.55,264.69 L67.65,267.43 L68.75,270.58 L69.85,271.94 L70.95,273.99 L72.05,274.05 L73.15,272.58 L74.25,271.97 L75.35,274.20 L76.45,275.08 L77.55,280.53 L78.65,283.85 L79.75,285.84 L80.85,287.05 L81.95,288.40 L83.05,286.48 L84.15,285.35 L85.25,285.92 L86.35,286.67 L87.45,288.32 L88.55,290.84 L89.65,294.23 L90.75,297.87 L91.85,300.86 L92.95,297.38 L94.05,296.67 L95.15,302.02 L96.25,303.45 L97.35,304.65 L98.45,303.80 L99.55,304.77 L100.65,304.69 L101.75,304.24 L102.85,301.38 L103.95,299.83 L105.05,298.01 L106.15,295.35 L107.25,293.74 L108.35,290.64 L109.45,287.09 L110.55,287.10 L111.65,294.68 L112.75,305.61 L113.85,318.41 L114.95,294.54 L116.05,286.16 L117.15,283.74 L118.25,282.50 L119.35,281.54 L120.45,279.88 L121.55,279.23 L122.65,280.92 L123.75,283.18 L124.85,284.66 L125.95,286.66 L127.05,276.40 L128.15,267.51 L129.25,265.96 L130.35,271.97 L131.45,280.20 L132.55,290.16 L133.65,294.61 L134.75,298.38 L135.85,298.89 L136.95,298.65 L138.05,297.69 L139.15,296.53 L140.25,296.88 L141.35,295.25 L142.45,295.72 L143.55,294.26 L144.65,293.15 L145.75,292.33 L146.85,292.02 L147.95,291.22 L149.05,288.81 L150.15,289.64 L151.25,289.79 L152.35,290.36 L153.45,290.16 L154.55,291.55 L155.65,292.30 L156.75,293.69 L157.85,292.78 L158.95,293.63 L160.05,288.08 L161.15,283.14 L162.25,281.15 L163.35,279.22 L164.45,277.40 L165.55,277.41 L166.65,275.90 L167.75,276.15 L168.85,274.34 L169.95,272.78 L171.05,270.87 L172.15,269.80 L173.25,269.86 L174.35,270.38 L175.45,272.72 L176.55,273.25 L177.65,276.64 L178.75,278.14 L179.85,281.10 L180.95,281.38 L182.05,281.02 L183.15,279.21 L184.25,277.66 L185.35,276.54 L186.45,273.79 L187.55,272.28 L188.65,270.54 L189.75,269.02 L190.85,267.19 L191.95,265.16 L193.05,262.80 L194.15,260.83 L195.25,258.65 L196.35,259.65 L197.45,261.09 L198.55,262.90 L199.65,263.44 L200.75,264.91 L201.85,266.48 L202.95,267.38 L204.05,268.21 L205.15,270.15 L206.25,272.21 L207.35,273.05 L208.45,274.82 L209.55,276.81 L210.65,279.20 L211.75,281.23 L212.85,282.10 L213.95,283.94 L215.05,285.30 L216.15,286.62 L217.25,288.11 L218.35,288.81 L219.45,289.83 L220.55,289.80 L221.65,291.06 L222.75,290.88 L223.85,290.17 L224.95,291.21 L226.05,289.78 L227.15,289.96 L228.25,290.28 L229.35,289.13 L230.45,288.17 L231.55,286.87 L232.65,285.71 L233.75,285.51 L234.85,283.94 L235.95,283.25 L237.05,282.96 L238.15,282.19 L239.25,282.42 L240.35,282.69 L241.45,282.28 L242.55,281.24 L243.65,280.64 L244.75,279.61 L245.85,278.37 L246.95,278.22 L248.05,277.63 L249.15,279.05 L250.25,280.24 L251.35,280.52 L252.45,281.49 L253.55,282.47 L254.65,282.74 L255.75,282.77 L256.85,283.24 L257.95,283.24 L259.05,282.90 L260.15,283.24 L261.25,283.89 L262.35,284.09 L263.45,284.48 L264.55,284.57 L265.65,284.65 L266.75,285.37 L267.85,284.90 L268.95,285.62 L270.05,285.53 L271.15,284.79 L272.25,283.91 L273.35,282.19 L274.45,281.24 L275.55,280.27 L276.65,279.68 L277.75,278.56 L278.85,278.11 L279.95,277.64 L281.05,276.91 L282.15,277.93 L283.25,278.47 L284.35,277.49 L285.45,276.54 L286.55,276.11 L287.65,273.70 L288.75,273.31 L289.85,271.40 L290.95,270.89 L292.05,269.74 L293.15,267.78 L294.25,267.19 L295.35,269.50 L296.45,271.07 L297.55,272.79 L298.65,273.97 L299.75,275.61 L300.85,278.76 L301.95,281.63 L303.05,284.77 L304.15,289.43 L305.25,293.34 L306.35,299.06 L307.45,304.70 L308.55,311.27 L309.65,315.52 L310.75,321.68 L311.85,324.76 L312.95,327.49 L314.05,332.53 L315.15,336.78 L316.25,335.69 L317.35,335.71 L318.45,332.69 L319.55,329.67 L320.65,327.21 L321.75,326.10 L322.85,325.15 L323.95,325.18 L325.05,323.94 L326.15,321.00 L327.25,318.86 L328.35,318.02 L329.45,315.45 L330.55,313.00 L331.65,312.08 L332.75,314.64 L333.85,316.38 L334.95,318.34 L336.05,320.31 L337.15,322.22 L338.25,323.44 L339.35,326.17 L340.45,323.72 L341.55,322.02 L342.65,320.57 L343.75,321.44 L344.85,321.84 L345.95,320.76 L347.05,320.02 L348.15,318.33 L349.25,318.72 L350.35,318.05 L351.45,318.74 L352.55,317.91 L353.65,317.69 L354.75,317.15 L355.85,317.03 L356.95,315.86 L358.05,314.50 L359.15,314.41 L360.25,312.78 L361.35,311.99 L362.45,311.34 L363.55,310.85 L364.65,309.59 L365.75,308.59 L366.85,307.33 L367.95,305.62 L369.05,306.75 L370.15,307.07 L371.25,306.38 L372.35,307.31 L373.45,307.27 L374.55,306.96 L375.65,307.19 L376.75,310.17 L377.85,311.91 L378.95,310.59 L380.05,309.74 L381.15,310.21 L382.25,308.72 L383.35,307.05 L384.45,305.74 L385.55,306.17 L386.65,308.13 L387.75,310.72 L388.85,311.52 L389.95,312.51 L391.05,314.83 L392.15,315.51 L393.25,315.37 L394.35,317.11 L395.45,316.93 L396.55,316.62 L397.65,316.29 L398.75,318.80 L399.85,320.85 L400.95,323.12 L402.05,320.03 L403.15,316.87 L404.25,313.04 L405.35,310.04 L406.45,306.81 L407.55,306.89 L408.65,305.88 L409.75,306.42 L410.85,307.48 L411.95,307.05 L413.05,306.44 L414.15,304.53 L415.25,303.45 L416.35,301.70 L417.45,304.39 L418.55,306.60 L419.65,308.18 L420.75,310.01 L421.85,309.93 L422.95,309.66 L424.05,307.70 L425.15,306.56 L426.25,306.48 L427.35,306.51 L428.45,305.63 L429.55,304.04 L430.65,302.59 L431.75,298.91 L432.85,296.94 L433.95,294.39 L435.05,291.89 L436.15,291.05 L437.25,290.51 L438.35,290.30 L439.45,287.16 L440.55,284.77 L441.65,281.15 L442.75,278.75 L443.85,276.96 L444.95,275.21 L446.05,278.28 L447.15,280.25 L448.25,281.27 L449.35,283.11 L450.45,282.61 L451.55,281.66 L452.65,280.94 L453.75,282.38 L454.85,282.70 L455.95,284.11 L457.05,284.82 L458.15,285.59 L459.25,286.56 L460.35,286.02 L461.45,286.19 L462.55,285.01 L463.65,284.56 L464.75,284.51 L465.85,285.21 L466.95,286.23 L468.05,286.22 L469.15,286.93 L470.25,286.80 L471.35,287.35 L472.45,288.50 L473.55,290.07 L474.65,291.32 L475.75,293.02 L476.85,293.63 L477.95,291.49 L479.05,287.86 L480.15,285.00 L481.25,282.93 L482.35,281.91 L483.45,280.68 L484.55,280.20 L485.65,280.49 L486.75,279.15 L487.85,278.12 L488.95,277.20 L490.05,276.22 L491.15,273.51 L492.25,271.23 L493.35,270.03 L494.45,271.22 L495.55,272.08 L496.65,270.93 L497.75,269.00 L498.85,268.52 L499.95,268.59 L501.05,269.38 L502.15,268.83 L503.25,268.30 L504.35,267.00 L505.45,266.93 L506.55,266.23 L507.65,265.50 L508.75,264.73 L509.85,265.00 L510.95,266.09 L512.05,267.15 L513.15,267.85 L514.25,267.49 L515.35,267.24 L516.45,267.25 L517.55,270.15 L518.65,273.20 L519.75,276.36 L520.85,277.88 L521.95,279.69 L523.05,279.11 L524.15,279.38 L525.25,280.70 L526.35,280.96 L527.45,282.03 L528.55,281.96 L529.65,282.09 L530.75,283.34 L531.85,284.36 L532.95,285.81 L534.05,286.97 L535.15,287.37 L536.25,288.13 L537.35,287.69 L538.45,288.45 L539.55,287.85 L540.65,286.86 L541.75,285.57 L542.85,284.46 L543.95,284.31 L545.05,282.42 L546.15,282.50 L547.25,280.17 L548.35,281.82 L549.45,281.33 L550.55,280.59 L551.65,280.55 L552.75,278.87 L553.85,279.61 L554.95,279.21 L556.05,279.35 L557.15,279.85 L558.25,279.25 L559.35,278.93 L560.45,278.10 L561.55,276.47 L562.65,276.50 L563.75,275.42 L564.85,272.32 L565.95,270.23 L567.05,266.53 L568.15,264.78 L569.25,264.30 L570.35,264.42 L571.45,264.88 L572.55,265.32 L573.65,265.09 L574.75,268.13 L575.85,274.64 L576.95,280.82 L578.05,285.53 L579.15,292.01 L580.25,296.98 L581.35,301.88 L582.45,307.81 L583.55,313.50 L584.65,316.61 L585.75,320.25 L586.85,322.38 L587.95,326.04 L589.05,328.64 L590.15,331.70 L591.25,328.01 L592.35,323.17 L593.45,318.31 L594.55,316.03 L595.65,313.50 L596.75,310.90 L597.85,308.39 L598.95,306.48 L600.05,305.61 L601.15,306.09 L602.25,303.36 L603.35,303.38 L604.45,304.38 L605.55,306.46 L606.65,307.67 L607.75,307.46 L608.85,306.62 L609.95,304.56 L611.05,303.07 L612.15,301.88 L613.25,299.33 L614.35,297.43 L615.45,293.93 L616.55,290.96 L617.65,287.75 L618.75,284.45 L619.85,281.49 L620.95,279.28 L622.05,277.29 L623.15,275.32 L624.25,273.44 L625.35,271.54 L626.45,268.53 L627.55,267.80 L628.65,266.12 L629.75,265.68 L630.85,264.75 L631.95,263.82 L633.05,264.33 L634.15,264.05 L635.25,263.66 L636.35,263.71 L637.45,262.55 L638.55,261.82 L639.65,262.11 L640.75,263.92 L641.85,264.73 L642.95,267.50 L644.05,269.95 L645.15,270.98 L646.25,273.15 L647.35,274.82 L648.45,275.25 L649.55,275.62 L650.65,276.42 L651.75,276.85 L652.85,276.17 L653.95,274.98 L655.05,274.02 L656.15,275.40 L657.25,275.71 L658.35,275.33 L659.45,276.81 L660.55,278.36 L661.65,280.41 L662.75,282.66 L663.85,284.82 L664.95,286.08 L666.05,286.54 L667.15,285.99 L668.25,285.43 L669.35,291.98 L670.45,304.11 L671.55,317.12 L672.65,326.95 L673.75,336.27 L674.85,340.33 L675.95,341.58 L677.05,343.73 L678.15,341.69 L679.25,344.04 L680.35,349.31 L681.45,354.92 L682.55,360.69 L683.65,367.57 L684.75,373.08 L685.85,367.88 L686.95,359.96 L688.05,351.15 L689.15,343.40 L690.25,330.28 L691.35,320.57 L692.45,317.12 L693.55,313.12 L694.65,312.07 L695.75,311.02 L696.85,315.69 L697.95,328.71 L699.05,336.10 L700.15,343.62 L701.25,348.31 L702.35,353.62 L703.45,359.69 L704.55,365.51 L705.65,371.17 L706.75,376.68 L707.85,382.68 L708.95,387.52 L710.05,391.42 L711.15,396.74 L712.25,401.32 L713.35,392.12 L714.45,382.77 L715.55,374.73 L716.65,368.32 L717.75,365.19 L718.85,358.76 L719.95,353.05 L721.05,349.08 L722.15,355.76 L723.25,358.87 L724.35,360.74 L725.45,360.90 L726.55,359.95 L727.65,363.67 L728.75,363.28 L729.85,361.15 L730.95,361.13 L732.05,361.88 L733.15,360.17 L734.25,357.62 L735.35,356.55 L736.45,355.39 L737.55,353.51 L738.65,355.59 L739.75,355.58 L740.85,352.34 L741.95,350.56 L743.05,350.05 L744.15,350.70 L745.25,351.88 L746.35,351.32 L747.45,347.65 L748.55,343.95 L749.65,343.99 L750.75,343.86 L751.85,342.58 L752.95,344.15 L754.05,344.61 L755.15,343.32 L756.25,342.85 L757.35,341.86 L758.45,341.41 L759.55,338.63 L760.65,336.62 L761.75,333.69 L762.85,333.03 L763.95,330.65 L765.05,328.78 L766.15,328.22 L767.25,324.48 L768.35,322.73 L769.45,320.08 L770.55,317.58 L771.65,316.54 L772.75,321.13 L773.50,326.00 L773.50,328.00Z" fill="#02222a"/>
<path d="M30.25,296.63 L31.35,291.33 L32.45,286.91 L33.55,282.96 L34.65,281.09 L35.75,281.41 L36.85,281.02 L37.95,279.51 L39.05,279.04 L40.15,277.99 L41.25,273.83 L42.35,268.63 L43.45,263.87 L44.55,261.28 L45.65,259.90 L46.75,257.02 L47.85,255.98 L48.95,251.47 L50.05,248.51 L51.15,245.18 L52.25,244.09 L53.35,243.27 L54.45,242.79 L55.55,243.31 L56.65,245.18 L57.75,245.51 L58.85,247.95 L59.95,251.45 L61.05,253.63 L62.15,255.85 L63.25,257.65 L64.35,259.92 L65.45,261.24 L66.55,264.69 L67.65,267.43 L68.75,270.58 L69.85,271.94 L70.95,273.99 L72.05,274.05 L73.15,272.58 L74.25,271.97 L75.35,274.20 L76.45,275.08 L77.55,280.53 L78.65,283.85 L79.75,285.84 L80.85,287.05 L81.95,288.40 L83.05,286.48 L84.15,285.35 L85.25,285.92 L86.35,286.67 L87.45,288.32 L88.55,290.84 L89.65,294.23 L90.75,297.87 L91.85,300.86 L92.95,297.38 L94.05,296.67 L95.15,302.02 L96.25,303.45 L97.35,304.65 L98.45,303.80 L99.55,304.77 L100.65,304.69 L101.75,304.24 L102.85,301.38 L103.95,299.83 L105.05,298.01 L106.15,295.35 L107.25,293.74 L108.35,290.64 L109.45,287.09 L110.55,287.10 L111.65,294.68 L112.75,305.61 L113.85,318.41 L114.95,294.54 L116.05,286.16 L117.15,283.74 L118.25,282.50 L119.35,281.54 L120.45,279.88 L121.55,279.23 L122.65,280.92 L123.75,283.18 L124.85,284.66 L125.95,286.66 L127.05,276.40 L128.15,267.51 L129.25,265.96 L130.35,271.97 L131.45,280.20 L132.55,290.16 L133.65,294.61 L134.75,298.38 L135.85,298.89 L136.95,298.65 L138.05,297.69 L139.15,296.53 L140.25,296.88 L141.35,295.25 L142.45,295.72 L143.55,294.26 L144.65,293.15 L145.75,292.33 L146.85,292.02 L147.95,291.22 L149.05,288.81 L150.15,289.64 L151.25,289.79 L152.35,290.36 L153.45,290.16 L154.55,291.55 L155.65,292.30 L156.75,293.69 L157.85,292.78 L158.95,293.63 L160.05,288.08 L161.15,283.14 L162.25,281.15 L163.35,279.22 L164.45,277.40 L165.55,277.41 L166.65,275.90 L167.75,276.15 L168.85,274.34 L169.95,272.78 L171.05,270.87 L172.15,269.80 L173.25,269.86 L174.35,270.38 L175.45,272.72 L176.55,273.25 L177.65,276.64 L178.75,278.14 L179.85,281.10 L180.95,281.38 L182.05,281.02 L183.15,279.21 L184.25,277.66 L185.35,276.54 L186.45,273.79 L187.55,272.28 L188.65,270.54 L189.75,269.02 L190.85,267.19 L191.95,265.16 L193.05,262.80 L194.15,260.83 L195.25,258.65 L196.35,259.65 L197.45,261.09 L198.55,262.90 L199.65,263.44 L200.75,264.91 L201.85,266.48 L202.95,267.38 L204.05,268.21 L205.15,270.15 L206.25,272.21 L207.35,273.05 L208.45,274.82 L209.55,276.81 L210.65,279.20 L211.75,281.23 L212.85,282.10 L213.95,283.94 L215.05,285.30 L216.15,286.62 L217.25,288.11 L218.35,288.81 L219.45,289.83 L220.55,289.80 L221.65,291.06 L222.75,290.88 L223.85,290.17 L224.95,291.21 L226.05,289.78 L227.15,289.96 L228.25,290.28 L229.35,289.13 L230.45,288.17 L231.55,286.87 L232.65,285.71 L233.75,285.51 L234.85,283.94 L235.95,283.25 L237.05,282.96 L238.15,282.19 L239.25,282.42 L240.35,282.69 L241.45,282.28 L242.55,281.24 L243.65,280.64 L244.75,279.61 L245.85,278.37 L246.95,278.22 L248.05,277.63 L249.15,279.05 L250.25,280.24 L251.35,280.52 L252.45,281.49 L253.55,282.47 L254.65,282.74 L255.75,282.77 L256.85,283.24 L257.95,283.24 L259.05,282.90 L260.15,283.24 L261.25,283.89 L262.35,284.09 L263.45,284.48 L264.55,284.57 L265.65,284.65 L266.75,285.37 L267.85,284.90 L268.95,285.62 L270.05,285.53 L271.15,284.79 L272.25,283.91 L273.35,282.19 L274.45,281.24 L275.55,280.27 L276.65,279.68 L277.75,278.56 L278.85,278.11 L279.95,277.64 L281.05,276.91 L282.15,277.93 L283.25,278.47 L284.35,277.49 L285.45,276.54 L286.55,276.11 L287.65,273.70 L288.75,273.31 L289.85,271.40 L290.95,270.89 L292.05,269.74 L293.15,267.78 L294.25,267.19 L295.35,269.50 L296.45,271.07 L297.55,272.79 L298.65,273.97 L299.75,275.61 L300.85,278.76 L301.95,281.63 L303.05,284.77 L304.15,289.43 L305.25,293.34 L306.35,299.06 L307.45,304.70 L308.55,311.27 L309.65,315.52 L310.75,321.68 L311.85,324.76 L312.95,327.49 L314.05,332.53 L315.15,336.78 L316.25,335.69 L317.35,335.71 L318.45,332.69 L319.55,329.67 L320.65,327.21 L321.75,326.10 L322.85,325.15 L323.95,325.18 L325.05,323.94 L326.15,321.00 L327.25,318.86 L328.35,318.02 L329.45,315.45 L330.55,313.00 L331.65,312.08 L332.75,314.64 L333.85,316.38 L334.95,318.34 L336.05,320.31 L337.15,322.22 L338.25,323.44 L339.35,326.17 L340.45,323.72 L341.55,322.02 L342.65,320.57 L343.75,321.44 L344.85,321.84 L345.95,320.76 L347.05,320.02 L348.15,318.33 L349.25,318.72 L350.35,318.05 L351.45,318.74 L352.55,317.91 L353.65,317.69 L354.75,317.15 L355.85,317.03 L356.95,315.86 L358.05,314.50 L359.15,314.41 L360.25,312.78 L361.35,311.99 L362.45,311.34 L363.55,310.85 L364.65,309.59 L365.75,308.59 L366.85,307.33 L367.95,305.62 L369.05,306.75 L370.15,307.07 L371.25,306.38 L372.35,307.31 L373.45,307.27 L374.55,306.96 L375.65,307.19 L376.75,310.17 L377.85,311.91 L378.95,310.59 L380.05,309.74 L381.15,310.21 L382.25,308.72 L383.35,307.05 L384.45,305.74 L385.55,306.17 L386.65,308.13 L387.75,310.72 L388.85,311.52 L389.95,312.51 L391.05,314.83 L392.15,315.51 L393.25,315.37 L394.35,317.11 L395.45,316.93 L396.55,316.62 L397.65,316.29 L398.75,318.80 L399.85,320.85 L400.95,323.12 L402.05,320.03 L403.15,316.87 L404.25,313.04 L405.35,310.04 L406.45,306.81 L407.55,306.89 L408.65,305.88 L409.75,306.42 L410.85,307.48 L411.95,307.05 L413.05,306.44 L414.15,304.53 L415.25,303.45 L416.35,301.70 L417.45,304.39 L418.55,306.60 L419.65,308.18 L420.75,310.01 L421.85,309.93 L422.95,309.66 L424.05,307.70 L425.15,306.56 L426.25,306.48 L427.35,306.51 L428.45,305.63 L429.55,304.04 L430.65,302.59 L431.75,298.91 L432.85,296.94 L433.95,294.39 L435.05,291.89 L436.15,291.05 L437.25,290.51 L438.35,290.30 L439.45,287.16 L440.55,284.77 L441.65,281.15 L442.75,278.75 L443.85,276.96 L444.95,275.21 L446.05,278.28 L447.15,280.25 L448.25,281.27 L449.35,283.11 L450.45,282.61 L451.55,281.66 L452.65,280.94 L453.75,282.38 L454.85,282.70 L455.95,284.11 L457.05,284.82 L458.15,285.59 L459.25,286.56 L460.35,286.02 L461.45,286.19 L462.55,285.01 L463.65,284.56 L464.75,284.51 L465.85,285.21 L466.95,286.23 L468.05,286.22 L469.15,286.93 L470.25,286.80 L471.35,287.35 L472.45,288.50 L473.55,290.07 L474.65,291.32 L475.75,293.02 L476.85,293.63 L477.95,291.49 L479.05,287.86 L480.15,285.00 L481.25,282.93 L482.35,281.91 L483.45,280.68 L484.55,280.20 L485.65,280.49 L486.75,279.15 L487.85,278.12 L488.95,277.20 L490.05,276.22 L491.15,273.51 L492.25,271.23 L493.35,270.03 L494.45,271.22 L495.55,272.08 L496.65,270.93 L497.75,269.00 L498.85,268.52 L499.95,268.59 L501.05,269.38 L502.15,268.83 L503.25,268.30 L504.35,267.00 L505.45,266.93 L506.55,266.23 L507.65,265.50 L508.75,264.73 L509.85,265.00 L510.95,266.09 L512.05,267.15 L513.15,267.85 L514.25,267.49 L515.35,267.24 L516.45,267.25 L517.55,270.15 L518.65,273.20 L519.75,276.36 L520.85,277.88 L521.95,279.69 L523.05,279.11 L524.15,279.38 L525.25,280.70 L526.35,280.96 L527.45,282.03 L528.55,281.96 L529.65,282.09 L530.75,283.34 L531.85,284.36 L532.95,285.81 L534.05,286.97 L535.15,287.37 L536.25,288.13 L537.35,287.69 L538.45,288.45 L539.55,287.85 L540.65,286.86 L541.75,285.57 L542.85,284.46 L543.95,284.31 L545.05,282.42 L546.15,282.50 L547.25,280.17 L548.35,281.82 L549.45,281.33 L550.55,280.59 L551.65,280.55 L552.75,278.87 L553.85,279.61 L554.95,279.21 L556.05,279.35 L557.15,279.85 L558.25,279.25 L559.35,278.93 L560.45,278.10 L561.55,276.47 L562.65,276.50 L563.75,275.42 L564.85,272.32 L565.95,270.23 L567.05,266.53 L568.15,264.78 L569.25,264.30 L570.35,264.42 L571.45,264.88 L572.55,265.32 L573.65,265.09 L574.75,268.13 L575.85,274.64 L576.95,280.82 L578.05,285.53 L579.15,292.01 L580.25,296.98 L581.35,301.88 L582.45,307.81 L583.55,313.50 L584.65,316.61 L585.75,320.25 L586.85,322.38 L587.95,326.04 L589.05,328.64 L590.15,331.70 L591.25,328.01 L592.35,323.17 L593.45,318.31 L594.55,316.03 L595.65,313.50 L596.75,310.90 L597.85,308.39 L598.95,306.48 L600.05,305.61 L601.15,306.09 L602.25,303.36 L603.35,303.38 L604.45,304.38 L605.55,306.46 L606.65,307.67 L607.75,307.46 L608.85,306.62 L609.95,304.56 L611.05,303.07 L612.15,301.88 L613.25,299.33 L614.35,297.43 L615.45,293.93 L616.55,290.96 L617.65,287.75 L618.75,284.45 L619.85,281.49 L620.95,279.28 L622.05,277.29 L623.15,275.32 L624.25,273.44 L625.35,271.54 L626.45,268.53 L627.55,267.80 L628.65,266.12 L629.75,265.68 L630.85,264.75 L631.95,263.82 L633.05,264.33 L634.15,264.05 L635.25,263.66 L636.35,263.71 L637.45,262.55 L638.55,261.82 L639.65,262.11 L640.75,263.92 L641.85,264.73 L642.95,267.50 L644.05,269.95 L645.15,270.98 L646.25,273.15 L647.35,274.82 L648.45,275.25 L649.55,275.62 L650.65,276.42 L651.75,276.85 L652.85,276.17 L653.95,274.98 L655.05,274.02 L656.15,275.40 L657.25,275.71 L658.35,275.33 L659.45,276.81 L660.55,278.36 L661.65,280.41 L662.75,282.66 L663.85,284.82 L664.95,286.08 L666.05,286.54 L667.15,285.99 L668.25,285.43 L669.35,291.98 L670.45,304.11 L671.55,317.12 L672.65,326.95 L673.75,336.27 L674.85,340.33 L675.95,341.58 L677.05,343.73 L678.15,341.69 L679.25,344.04 L680.35,349.31 L681.45,354.92 L682.55,360.69 L683.65,367.57 L684.75,373.08 L685.85,367.88 L686.95,359.96 L688.05,351.15 L689.15,343.40 L690.25,330.28 L691.35,320.57 L692.45,317.12 L693.55,313.12 L694.65,312.07 L695.75,311.02 L696.85,315.69 L697.95,328.71 L699.05,336.10 L700.15,343.62 L701.25,348.31 L702.35,353.62 L703.45,359.69 L704.55,365.51 L705.65,371.17 L706.75,376.68 L707.85,382.68 L708.95,387.52 L710.05,391.42 L711.15,396.74 L712.25,401.32 L713.35,392.12 L714.45,382.77 L715.55,374.73 L716.65,368.32 L717.75,365.19 L718.85,358.76 L719.95,353.05 L721.05,349.08 L722.15,355.76 L723.25,358.87 L724.35,360.74 L725.45,360.90 L726.55,359.95 L727.65,363.67 L728.75,363.28 L729.85,361.15 L730.95,361.13 L732.05,361.88 L733.15,360.17 L734.25,357.62 L735.35,356.55 L736.45,355.39 L737.55,353.51 L738.65,355.59 L739.75,355.58 L740.85,352.34 L741.95,350.56 L743.05,350.05 L744.15,350.70 L745.25,351.88 L746.35,351.32 L747.45,347.65 L748.55,343.95 L749.65,343.99 L750.75,343.86 L751.85,342.58 L752.95,344.15 L754.05,344.61 L755.15,343.32 L756.25,342.85 L757.35,341.86 L758.45,341.41 L759.55,338.63 L760.65,336.62 L761.75,333.69 L762.85,333.03 L763.95,330.65 L765.05,328.78 L766.15,328.22 L767.25,324.48 L768.35,322.73 L769.45,320.08 L770.55,317.58 L771.65,316.54 L772.75,321.13 L773.50,326.00" fill="none" stroke="#0a0e11" stroke-width="1.8" stroke-linejoin="round"/>
<path d="M707.5,372 L709,362 L711,366 L712,380 L710.5,390 L708.5,382Z" fill="#4a4320" opacity="0.55"/>
<line x1="30" x2="998.5" y1="410.3" y2="410.3" stroke="#f03c30" stroke-width="1.3"/>
<path d="M306.3,338.5 C308.79,356.72 321.69,356.24 323.5,340" fill="none" stroke="#1414f0" stroke-width="1.3" stroke-linecap="round"/>
<path d="M578.5,334.3 C580.69,351.72 593.25,351.34 595.25,335.5" fill="none" stroke="#f04535" stroke-width="1.2" stroke-linecap="round"/>
<path d="M672.3,370 C674.47,387.16 686.62,386.58 688.5,371.8" fill="none" stroke="#f04535" stroke-width="1.2" stroke-linecap="round"/>
<path d="M697.3,404.3 C699.60,421.72 712.35,421.34 714.3,405.5" fill="none" stroke="#f04535" stroke-width="1.2" stroke-linecap="round"/>
<circle cx="773.6" cy="210.2" r="4.3" fill="none" stroke="#ee4a4a" stroke-width="0.9"/>
<text x="773.6" y="212.2" font-size="5.5" fill="#ee4a4a" text-anchor="middle">?</text>
<text x="32.8" y="11.3" font-size="4.9" fill="#2a2d36" stroke="#2a2d36" stroke-width="0.1" text-anchor="start" font-weight="normal" font-style="normal" textLength="115.6" lengthAdjust="spacingAndGlyphs">Bitcoin: Funding Rates - All Exchanges, 1h, CryptoQuant</text>
<text x="152" y="11.3" font-size="4.9" fill="#7446e0" stroke="#7446e0" stroke-width="0.15" text-anchor="start" font-weight="normal" font-style="normal" textLength="48.5" lengthAdjust="spacingAndGlyphs">-0.022  -0.000 (-1.35%)</text>
<text x="32.8" y="18" font-size="4.9" fill="#2a2d36" stroke="#2a2d36" stroke-width="0.1" text-anchor="start" font-weight="normal" font-style="normal" textLength="158.6" lengthAdjust="spacingAndGlyphs">BITCOIN: PRICE &amp; VOLUME - SPOT, ALL EXCHANGES, BTC-USD, CRYPTOQUANT</text>
<text x="194" y="18" font-size="4.9" fill="#55ad7b" stroke="#55ad7b" stroke-width="0.1" text-anchor="start" font-weight="normal" font-style="normal" textLength="120.8" lengthAdjust="spacingAndGlyphs">67319.48  67559.43  67267.40  67416.81  +114.91 (+0.17%)</text>
<text x="26.4" y="11.0" font-size="4.7" fill="#2e313a" stroke="#2e313a" stroke-width="0.1" text-anchor="end" font-weight="normal" font-style="normal"  textLength="19.6" lengthAdjust="spacingAndGlyphs">135000.00</text>
<text x="26.4" y="25.599999999999998" font-size="4.7" fill="#2e313a" stroke="#2e313a" stroke-width="0.1" text-anchor="end" font-weight="normal" font-style="normal"  textLength="19.6" lengthAdjust="spacingAndGlyphs">127000.00</text>
<text x="26.4" y="40.6" font-size="4.7" fill="#2e313a" stroke="#2e313a" stroke-width="0.1" text-anchor="end" font-weight="normal" font-style="normal"  textLength="19.6" lengthAdjust="spacingAndGlyphs">119000.00</text>
<text x="26.4" y="57.0" font-size="4.7" fill="#2e313a" stroke="#2e313a" stroke-width="0.1" text-anchor="end" font-weight="normal" font-style="normal"  textLength="19.6" lengthAdjust="spacingAndGlyphs">111000.00</text>
<text x="26.4" y="74.60000000000001" font-size="4.7" fill="#2e313a" stroke="#2e313a" stroke-width="0.1" text-anchor="end" font-weight="normal" font-style="normal"  textLength="19.6" lengthAdjust="spacingAndGlyphs">103000.00</text>
<text x="26.4" y="86.4" font-size="4.7" fill="#2e313a" stroke="#2e313a" stroke-width="0.1" text-anchor="end" font-weight="normal" font-style="normal"  textLength="17.4" lengthAdjust="spacingAndGlyphs">98000.00</text>
<text x="26.4" y="98.4" font-size="4.7" fill="#2e313a" stroke="#2e313a" stroke-width="0.1" text-anchor="end" font-weight="normal" font-style="normal"  textLength="17.4" lengthAdjust="spacingAndGlyphs">93000.00</text>
<text x="26.4" y="114.0" font-size="4.7" fill="#2e313a" stroke="#2e313a" stroke-width="0.1" text-anchor="end" font-weight="normal" font-style="normal"  textLength="17.4" lengthAdjust="spacingAndGlyphs">87000.00</text>
<text x="26.4" y="124.8" font-size="4.7" fill="#2e313a" stroke="#2e313a" stroke-width="0.1" text-anchor="end" font-weight="normal" font-style="normal"  textLength="17.4" lengthAdjust="spacingAndGlyphs">83000.00</text>
<text x="26.4" y="136.39999999999998" font-size="4.7" fill="#2e313a" stroke="#2e313a" stroke-width="0.1" text-anchor="end" font-weight="normal" font-style="normal"  textLength="17.4" lengthAdjust="spacingAndGlyphs">79000.00</text>
<text x="26.4" y="148.39999999999998" font-size="4.7" fill="#2e313a" stroke="#2e313a" stroke-width="0.1" text-anchor="end" font-weight="normal" font-style="normal"  textLength="17.4" lengthAdjust="spacingAndGlyphs">75000.00</text>
<text x="26.4" y="161.5" font-size="4.7" fill="#2e313a" stroke="#2e313a" stroke-width="0.1" text-anchor="end" font-weight="normal" font-style="normal"  textLength="17.4" lengthAdjust="spacingAndGlyphs">71000.00</text>
<text x="26.4" y="189.39999999999998" font-size="4.7" fill="#2e313a" stroke="#2e313a" stroke-width="0.1" text-anchor="end" font-weight="normal" font-style="normal"  textLength="17.4" lengthAdjust="spacingAndGlyphs">63000.00</text>
<text x="26.4" y="201.7" font-size="4.7" fill="#2e313a" stroke="#2e313a" stroke-width="0.1" text-anchor="end" font-weight="normal" font-style="normal"  textLength="17.4" lengthAdjust="spacingAndGlyphs">59800.00</text>
<text x="26.4" y="212.5" font-size="4.7" fill="#2e313a" stroke="#2e313a" stroke-width="0.1" text-anchor="end" font-weight="normal" font-style="normal"  textLength="17.4" lengthAdjust="spacingAndGlyphs">57050.00</text>
<rect x="6.1" y="168.1" width="24" height="6.7" fill="#60b27c"/>
<text x="26.4" y="173.2" font-size="4.6" fill="#f0fff4" stroke="#f0fff4" stroke-width="0" text-anchor="end" font-weight="bold" font-style="normal"  textLength="17.4" lengthAdjust="spacingAndGlyphs">67416.81</text>
<path d="M28,171.6 h1.2" stroke="#e9fff0" stroke-width="0.6"/>
<text x="1002.2" y="5.9" font-size="4.7" fill="#262932" stroke="#262932" stroke-width="0.18" text-anchor="start" font-weight="normal" font-style="normal"  textLength="10.5" lengthAdjust="spacingAndGlyphs">0.300</text>
<text x="1002.2" y="20.7" font-size="4.7" fill="#262932" stroke="#262932" stroke-width="0.18" text-anchor="start" font-weight="normal" font-style="normal"  textLength="10.5" lengthAdjust="spacingAndGlyphs">0.100</text>
<text x="1002.2" y="32.800000000000004" font-size="4.7" fill="#262932" stroke="#262932" stroke-width="0.18" text-anchor="start" font-weight="normal" font-style="normal"  textLength="10.5" lengthAdjust="spacingAndGlyphs">0.040</text>
<text x="1002.2" y="114.2" font-size="4.7" fill="#262932" stroke="#262932" stroke-width="0.18" text-anchor="start" font-weight="normal" font-style="normal"  textLength="10.5" lengthAdjust="spacingAndGlyphs">0.000</text>
<text x="1004.3" y="200.2" font-size="4.7" fill="#262932" stroke="#262932" stroke-width="0.18" text-anchor="start" font-weight="normal" font-style="normal"  textLength="10.5" lengthAdjust="spacingAndGlyphs">0.060</text>
<text x="1004.3" y="211.5" font-size="4.7" fill="#262932" stroke="#262932" stroke-width="0.18" text-anchor="start" font-weight="normal" font-style="normal"  textLength="10.5" lengthAdjust="spacingAndGlyphs">0.140</text>
<rect x="998" y="0" width="22" height="4" fill="#1c202c"/>
<rect x="998.7" y="46.6" width="17.2" height="6.3" fill="#f7392c"/>
<text x="1002.2" y="51.5" font-size="4.7" fill="#ffe9e0" stroke="#ffe9e0" stroke-width="0" text-anchor="start" font-weight="normal" font-style="normal"  textLength="10.5" lengthAdjust="spacingAndGlyphs">0.010</text>
<text x="956.9" y="52.7" font-size="8.4" fill="#f23a2d" stroke="#f23a2d" stroke-width="0.18" text-anchor="start" font-weight="bold" font-style="italic" textLength="38.3" lengthAdjust="spacingAndGlyphs">TOO BUY</text>
<rect x="998.7" y="126.9" width="19.1" height="6.7" fill="#0b0b0d"/>
<text x="1002.2" y="132" font-size="4.7" fill="#ffffff" stroke="#ffffff" stroke-width="0.1" text-anchor="start" font-weight="normal" font-style="normal"  textLength="13" lengthAdjust="spacingAndGlyphs">-0.000</text>
<rect x="998.8" y="181.8" width="19" height="6.4" fill="#6a3fd0"/>
<text x="1004.6" y="186.8" font-size="4.7" fill="#ffffff" stroke="#ffffff" stroke-width="0.1" text-anchor="start" font-weight="normal" font-style="normal"  textLength="11.5" lengthAdjust="spacingAndGlyphs">0.022</text>
<text x="1002.2" y="223.75" font-size="4.7" fill="#262932" stroke="#262932" stroke-width="0.18" text-anchor="start" font-weight="normal" font-style="normal"  textLength="12.7" lengthAdjust="spacingAndGlyphs">0.0140</text>
<text x="1002.2" y="239.0" font-size="4.7" fill="#262932" stroke="#262932" stroke-width="0.18" text-anchor="start" font-weight="normal" font-style="normal"  textLength="12.7" lengthAdjust="spacingAndGlyphs">0.0120</text>
<text x="1002.2" y="254.25" font-size="4.7" fill="#262932" stroke="#262932" stroke-width="0.18" text-anchor="start" font-weight="normal" font-style="normal"  textLength="12.7" lengthAdjust="spacingAndGlyphs">0.0100</text>
<text x="1002.2" y="269.5" font-size="4.7" fill="#262932" stroke="#262932" stroke-width="0.18" text-anchor="start" font-weight="normal" font-style="normal"  textLength="12.7" lengthAdjust="spacingAndGlyphs">0.0080</text>
<text x="1002.2" y="284.75" font-size="4.7" fill="#262932" stroke="#262932" stroke-width="0.18" text-anchor="start" font-weight="normal" font-style="normal"  textLength="12.7" lengthAdjust="spacingAndGlyphs">0.0060</text>
<text x="1002.2" y="300.0" font-size="4.7" fill="#262932" stroke="#262932" stroke-width="0.18" text-anchor="start" font-weight="normal" font-style="normal"  textLength="12.7" lengthAdjust="spacingAndGlyphs">0.0040</text>
<text x="1002.2" y="315.25" font-size="4.7" fill="#262932" stroke="#262932" stroke-width="0.18" text-anchor="start" font-weight="normal" font-style="normal"  textLength="12.7" lengthAdjust="spacingAndGlyphs">0.0020</text>
<text x="1002.2" y="361.0" font-size="4.7" fill="#262932" stroke="#262932" stroke-width="0.18" text-anchor="start" font-weight="normal" font-style="normal"  textLength="15.1" lengthAdjust="spacingAndGlyphs">-0.0040</text>
<text x="1002.2" y="376.25" font-size="4.7" fill="#262932" stroke="#262932" stroke-width="0.18" text-anchor="start" font-weight="normal" font-style="normal"  textLength="15.1" lengthAdjust="spacingAndGlyphs">-0.0060</text>
<text x="1002.2" y="391.5" font-size="4.7" fill="#262932" stroke="#262932" stroke-width="0.18" text-anchor="start" font-weight="normal" font-style="normal"  textLength="15.1" lengthAdjust="spacingAndGlyphs">-0.0080</text>
<text x="1002.2" y="406.75" font-size="4.7" fill="#262932" stroke="#262932" stroke-width="0.18" text-anchor="start" font-weight="normal" font-style="normal"  textLength="15.1" lengthAdjust="spacingAndGlyphs">-0.0100</text>
<text x="1002.2" y="422.0" font-size="4.7" fill="#262932" stroke="#262932" stroke-width="0.18" text-anchor="start" font-weight="normal" font-style="normal"  textLength="15.1" lengthAdjust="spacingAndGlyphs">-0.0120</text>
<line x1="30" x2="998.7" y1="328" y2="328" stroke="#8d9099" stroke-width="0.8"/>
<rect x="998.8" y="323" width="19" height="6.8" fill="#0b0b0d"/>
<text x="1002.2" y="328.1" font-size="4.7" fill="#ffffff" stroke="#ffffff" stroke-width="0.1" text-anchor="start" font-weight="normal" font-style="normal"  textLength="12.5" lengthAdjust="spacingAndGlyphs">0.0002</text>
<rect x="998.8" y="335.2" width="21.2" height="6.8" fill="#f7ec3b"/>
<text x="1002.2" y="340.4" font-size="4.7" fill="#23262f" stroke="#23262f" stroke-width="0.18" text-anchor="start" font-weight="normal" font-style="normal"  textLength="15.1" lengthAdjust="spacingAndGlyphs">-0.0014</text>
<rect x="998.8" y="342" width="21.2" height="6.7" fill="#22bcd6"/>
<text x="1002.2" y="347.1" font-size="4.7" fill="#143040" stroke="#143040" stroke-width="0.18" text-anchor="start" font-weight="normal" font-style="normal"  textLength="15.1" lengthAdjust="spacingAndGlyphs">-0.0020</text>
<rect x="998.6" y="407.1" width="21.4" height="6.7" fill="#f7392c"/>
<text x="1002.9" y="412.2" font-size="4.7" fill="#ffe9e0" stroke="#ffe9e0" stroke-width="0" text-anchor="start" font-weight="normal" font-style="normal"  textLength="13.8" lengthAdjust="spacingAndGlyphs">-0.0108</text>
<text x="996" y="416.1" font-size="5.6" fill="#ee6a62" stroke="#ee6a62" stroke-width="0.1" text-anchor="end" font-weight="normal" font-style="italic"  textLength="60.5" lengthAdjust="spacingAndGlyphs">WMA low at 08 Feb 26</text>
<text x="32.8" y="224" font-size="4.8" fill="#23262f" stroke="#23262f" stroke-width="0.18" text-anchor="start" font-weight="normal" font-style="normal" >MA (72, close, 0)</text>
<text x="70.5" y="224" font-size="4.9" fill="#111318" stroke="#111318" stroke-width="0.18" text-anchor="start" font-weight="bold" font-style="normal" >0.0002</text>
<text x="32.8" y="230.8" font-size="4.8" fill="#3a3d46" stroke="#3a3d46" stroke-width="0.18" text-anchor="start" font-weight="normal" font-style="normal" >EMA (72, close, 0)</text>
<text x="73.3" y="230.8" font-size="4.9" fill="#2bbcd6" stroke="#2bbcd6" stroke-width="0.18" text-anchor="start" font-weight="normal" font-style="normal" >-0.0020</text>
<text x="32.8" y="237.2" font-size="4.8" fill="#23262f" stroke="#23262f" stroke-width="0.18" text-anchor="start" font-weight="normal" font-style="normal" >WMA (72, close, 0)</text>
<text x="74.2" y="237.2" font-size="4.9" fill="#f5e532" stroke="#f5e532" stroke-width="0.18" text-anchor="start" font-weight="normal" font-style="normal" >-0.0014</text>
<text x="321.3" y="340.6" font-size="14.2" fill="#ffffff" stroke="#ffffff" stroke-width="0.75" text-anchor="start" font-weight="normal" font-style="italic"  textLength="43.8" lengthAdjust="spacingAndGlyphs">Yellow</text>
<text x="371.9" y="340.6" font-size="14.2" fill="#ffffff" stroke="#ffffff" stroke-width="0.75" text-anchor="start" font-weight="normal" font-style="italic"  textLength="27" lengthAdjust="spacingAndGlyphs">Blur</text>
<text x="405.6" y="340.6" font-size="14.2" fill="#ffffff" stroke="#ffffff" stroke-width="0.75" text-anchor="start" font-weight="normal" font-style="italic"  textLength="38.2" lengthAdjust="spacingAndGlyphs">Black</text>
<text x="449.4" y="340.6" font-size="14.2" fill="#ffffff" stroke="#ffffff" stroke-width="0.75" text-anchor="start" font-weight="normal" font-style="italic"  textLength="13.5" lengthAdjust="spacingAndGlyphs">-&gt;</text>
<text x="468.5" y="340.6" font-size="14.2" fill="#ffffff" stroke="#ffffff" stroke-width="0.75" text-anchor="start" font-weight="normal" font-style="italic"  textLength="49" lengthAdjust="spacingAndGlyphs">SIGNAL</text>
<line x1="4" x2="1020" y1="428.3" y2="428.3" stroke="#6f727c" stroke-width="1"/>
<text x="55.8" y="435.0" font-size="4.4" fill="#1f222a" stroke="#1f222a" stroke-width="0.22" text-anchor="middle" font-weight="normal" font-style="normal" >7</text>
<text x="87" y="435.0" font-size="4.4" fill="#1f222a" stroke="#1f222a" stroke-width="0.22" text-anchor="middle" font-weight="normal" font-style="normal" >13</text>
<text x="124" y="435.0" font-size="4.4" fill="#1f222a" stroke="#1f222a" stroke-width="0.22" text-anchor="middle" font-weight="normal" font-style="normal" >20</text>
<text x="155.5" y="435.0" font-size="4.4" fill="#1f222a" stroke="#1f222a" stroke-width="0.22" text-anchor="middle" font-weight="normal" font-style="normal" >26</text>
<text x="187.7" y="435.0" font-size="4.4" fill="#1f222a" stroke="#1f222a" stroke-width="0.22" text-anchor="middle" font-weight="normal" font-style="normal" >Nov</text>
<text x="234.5" y="435.0" font-size="4.4" fill="#1f222a" stroke="#1f222a" stroke-width="0.22" text-anchor="middle" font-weight="normal" font-style="normal" >10</text>
<text x="271.8" y="435.0" font-size="4.4" fill="#1f222a" stroke="#1f222a" stroke-width="0.22" text-anchor="middle" font-weight="normal" font-style="normal" >17</text>
<text x="308.3" y="435.0" font-size="4.4" fill="#1f222a" stroke="#1f222a" stroke-width="0.22" text-anchor="middle" font-weight="normal" font-style="normal" >24</text>
<text x="345" y="435.0" font-size="4.4" fill="#1f222a" stroke="#1f222a" stroke-width="0.22" text-anchor="middle" font-weight="normal" font-style="normal" >Dec</text>
<text x="381.5" y="435.0" font-size="4.4" fill="#1f222a" stroke="#1f222a" stroke-width="0.22" text-anchor="middle" font-weight="normal" font-style="normal" >8</text>
<text x="418.7" y="435.0" font-size="4.4" fill="#1f222a" stroke="#1f222a" stroke-width="0.22" text-anchor="middle" font-weight="normal" font-style="normal" >15</text>
<text x="455.3" y="435.0" font-size="4.4" fill="#1f222a" stroke="#1f222a" stroke-width="0.22" text-anchor="middle" font-weight="normal" font-style="normal" >22</text>
<text x="508" y="435.0" font-size="4.4" fill="#1f222a" stroke="#1f222a" stroke-width="0.22" text-anchor="middle" font-weight="bold" font-style="normal" >2026</text>
<text x="536.7" y="435.0" font-size="4.4" fill="#1f222a" stroke="#1f222a" stroke-width="0.22" text-anchor="middle" font-weight="normal" font-style="normal" >12:00</text>
<text x="566" y="435.0" font-size="4.4" fill="#1f222a" stroke="#1f222a" stroke-width="0.22" text-anchor="middle" font-weight="normal" font-style="normal" >12</text>
<text x="602.8" y="435.0" font-size="4.4" fill="#1f222a" stroke="#1f222a" stroke-width="0.22" text-anchor="middle" font-weight="normal" font-style="normal" >19</text>
<text x="639.3" y="435.0" font-size="4.4" fill="#1f222a" stroke="#1f222a" stroke-width="0.22" text-anchor="middle" font-weight="normal" font-style="normal" >26</text>
<text x="671" y="435.0" font-size="4.4" fill="#1f222a" stroke="#1f222a" stroke-width="0.22" text-anchor="middle" font-weight="normal" font-style="normal" >Feb</text>
<text x="712.5" y="435.0" font-size="4.4" fill="#1f222a" stroke="#1f222a" stroke-width="0.22" text-anchor="middle" font-weight="normal" font-style="normal" >9</text>
<text x="749.8" y="435.0" font-size="4.4" fill="#1f222a" stroke="#1f222a" stroke-width="0.22" text-anchor="middle" font-weight="normal" font-style="normal" >16</text>
<text x="786.3" y="435.0" font-size="4.4" fill="#1f222a" stroke="#1f222a" stroke-width="0.22" text-anchor="middle" font-weight="normal" font-style="normal" >23</text>
<circle cx="16.9" cy="433.1" r="3.6" fill="#83868f"/>
<circle cx="1009.4" cy="433.1" r="3.6" fill="#83868f"/>
<path d="M4.2,446.6 C3.6,444.8 5.2,443.6 6.4,444 C7,442 9.6,441.4 10.6,443 C12.4,442.8 14.2,444.6 13.6,446.6 C13.4,447.6 12.6,448 11.8,448 L6,448 C5,448 4.4,447.4 4.2,446.6Z" fill="#1fa3f2"/>
<path d="M5.6,446.4 L8,444.4 L9.6,445.9 L12.2,443.9" fill="none" stroke="#1c202c" stroke-width="0.8"/>
<text x="15" y="447.2" font-size="5.6" fill="#ffffff" stroke="#ffffff" stroke-width="0.18" text-anchor="start" font-weight="bold" font-style="normal" textLength="27.3" lengthAdjust="spacingAndGlyphs">TradingView</text>
<path d="M973.3,441.6 A2.5,2.5 0 1,0 973.3,446.4 A3.4,3.4 0 0,1 973.3,441.6Z" fill="#ffffff"/>
<circle cx="976.3" cy="444" r="2.4" fill="#ffffff"/>
<path d="M976.3,444 h2.4" stroke="#1c202c" stroke-width="0.7"/>
<text x="980.7" y="446.2" font-size="6.3" fill="#ffffff" stroke="#ffffff" stroke-width="0" text-anchor="start" font-weight="bold" font-style="normal"  textLength="38.3" lengthAdjust="spacingAndGlyphs">CryptoQuant</text>
</g>
</svg>
</body></html>
